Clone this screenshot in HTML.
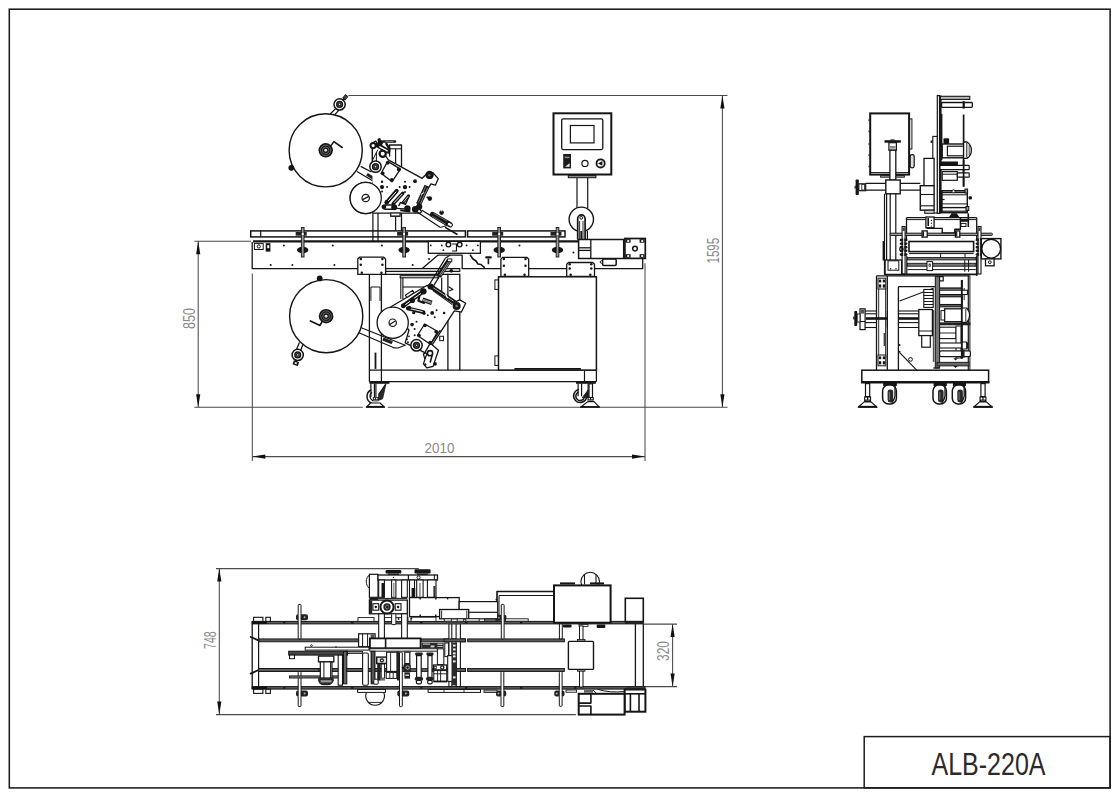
<!DOCTYPE html>
<html><head><meta charset="utf-8"><title>ALB-220A</title>
<style>
html,body{margin:0;padding:0;background:#fff;font-family:"Liberation Sans",sans-serif;}
svg{display:block;}
</style></head><body>
<svg width="1116" height="800" viewBox="0 0 1116 800" fill="none">
<rect x="0" y="0" width="1116" height="800" fill="#ffffff"/>
<g id="dims">
<rect x="9.3" y="9.2" width="1100.8" height="778.7" fill="none" stroke="#1c1c1c" stroke-width="1.55" />
<rect x="864.2" y="736.6" width="245.9" height="51.3" fill="none" stroke="#1c1c1c" stroke-width="1.5" />
<text x="931.5" y="775.1" font-family="'Liberation Sans', sans-serif" font-size="31.5" fill="#2a2a2a" textLength="114" lengthAdjust="spacingAndGlyphs">ALB-220A</text>
<line x1="348.4" y1="95.4" x2="727.5" y2="95.4" stroke="#4a4a4a" stroke-width="1.05" />
<line x1="722.4" y1="95.4" x2="722.4" y2="407.3" stroke="#4a4a4a" stroke-width="1.05" />
<path d="M722.4,95.4 L720.3,108.4 L724.5,108.4 Z" fill="#111" stroke="#151515" stroke-width="0" stroke-linejoin="round" />
<path d="M722.4,407.3 L720.3,394.3 L724.5,394.3 Z" fill="#111" stroke="#151515" stroke-width="0" stroke-linejoin="round" />
<text transform="translate(707.3,263.5) rotate(-90)" x="0" y="11.8" font-family="'Liberation Sans', sans-serif" font-size="16.3" fill="#8a8a8a" textLength="25.7" lengthAdjust="spacingAndGlyphs">1595</text>
<line x1="194.4" y1="407.3" x2="362.8" y2="407.3" stroke="#4a4a4a" stroke-width="1.05" />
<line x1="387.8" y1="407.3" x2="581" y2="407.3" stroke="#4a4a4a" stroke-width="1.05" />
<line x1="598.8" y1="407.3" x2="727.5" y2="407.3" stroke="#4a4a4a" stroke-width="1.05" />
<line x1="194.4" y1="241.2" x2="251" y2="241.2" stroke="#4a4a4a" stroke-width="1.05" />
<line x1="198.2" y1="241.2" x2="198.2" y2="407.3" stroke="#4a4a4a" stroke-width="1.05" />
<path d="M198.2,241.2 L196.1,254.2 L200.3,254.2 Z" fill="#111" stroke="#151515" stroke-width="0" stroke-linejoin="round" />
<path d="M198.2,407.3 L196.1,394.3 L200.3,394.3 Z" fill="#111" stroke="#151515" stroke-width="0" stroke-linejoin="round" />
<text transform="translate(183,329) rotate(-90)" x="0" y="11.8" font-family="'Liberation Sans', sans-serif" font-size="16.3" fill="#8a8a8a" textLength="20.9" lengthAdjust="spacingAndGlyphs">850</text>
<line x1="252.3" y1="273.4" x2="252.3" y2="461" stroke="#4a4a4a" stroke-width="1.05" />
<line x1="645" y1="263.2" x2="645" y2="461" stroke="#4a4a4a" stroke-width="1.05" />
<line x1="252.3" y1="456.6" x2="645" y2="456.6" stroke="#4a4a4a" stroke-width="1.05" />
<path d="M252.3,456.6 L265.3,454.5 L265.3,458.7 Z" fill="#111" stroke="#151515" stroke-width="0" stroke-linejoin="round" />
<path d="M645,456.6 L632,454.5 L632,458.7 Z" fill="#111" stroke="#151515" stroke-width="0" stroke-linejoin="round" />
<text x="424.6" y="452.8" font-family="'Liberation Sans', sans-serif" font-size="14.8" fill="#8a8a8a" textLength="29.8" lengthAdjust="spacingAndGlyphs">2010</text>
<line x1="216" y1="568.6" x2="418.8" y2="568.6" stroke="#4a4a4a" stroke-width="1.05" />
<line x1="216" y1="714.6" x2="575.9" y2="714.6" stroke="#4a4a4a" stroke-width="1.05" />
<line x1="219.3" y1="568.6" x2="219.3" y2="714.6" stroke="#4a4a4a" stroke-width="1.05" />
<path d="M219.3,568.6 L217.2,581.6 L221.4,581.6 Z" fill="#111" stroke="#151515" stroke-width="0" stroke-linejoin="round" />
<path d="M219.3,714.6 L217.2,701.6 L221.4,701.6 Z" fill="#111" stroke="#151515" stroke-width="0" stroke-linejoin="round" />
<text transform="translate(204.8,649) rotate(-90)" x="0" y="11.3" font-family="'Liberation Sans', sans-serif" font-size="15.6" fill="#8a8a8a" textLength="17.7" lengthAdjust="spacingAndGlyphs">748</text>
<line x1="643.3" y1="624.1" x2="677" y2="624.1" stroke="#4a4a4a" stroke-width="1.05" />
<line x1="644" y1="686.6" x2="677" y2="686.6" stroke="#4a4a4a" stroke-width="1.05" />
<line x1="672.6" y1="624.1" x2="672.6" y2="686.6" stroke="#4a4a4a" stroke-width="1.05" />
<path d="M672.6,624.1 L670.5,637.1 L674.7,637.1 Z" fill="#111" stroke="#151515" stroke-width="0" stroke-linejoin="round" />
<path d="M672.6,686.6 L670.5,673.6 L674.7,673.6 Z" fill="#111" stroke="#151515" stroke-width="0" stroke-linejoin="round" />
<text transform="translate(657.9,660.9) rotate(-90)" x="0" y="11.5" font-family="'Liberation Sans', sans-serif" font-size="15.9" fill="#8a8a8a" textLength="19.8" lengthAdjust="spacingAndGlyphs">320</text>
</g>
<g id="front1">
<circle cx="325.7" cy="150.3" r="36.6" fill="none" stroke="#151515" stroke-width="1.4"/>
<circle cx="325.7" cy="150.3" r="7.2" fill="#151515" stroke="#151515" stroke-width="0"/><circle cx="325.7" cy="150.3" r="5.18" fill="none" stroke="#aaa" stroke-width="0.5"/><circle cx="325.7" cy="150.3" r="3.31" fill="none" stroke="#aaa" stroke-width="0.5"/><circle cx="325.7" cy="150.3" r="1.44" fill="#ddd" stroke="#151515" stroke-width="0"/>
<path d="M330.4,146.4 L333.9,141.6 L342.2,147.5" fill="none" stroke="#151515" stroke-width="1.6" stroke-linejoin="round" stroke-linecap="round" />
<line x1="330.2" y1="114" x2="335.8" y2="108.3" stroke="#151515" stroke-width="1.2" />
<line x1="334.6" y1="114.9" x2="339" y2="110" stroke="#151515" stroke-width="1.2" />
<circle cx="339.6" cy="104.4" r="5.6" fill="#fff" stroke="#151515" stroke-width="1.5"/><circle cx="339.6" cy="104.4" r="3.58" fill="#151515" stroke="#151515" stroke-width="0"/><circle cx="339.6" cy="104.4" r="2.02" fill="none" stroke="#888" stroke-width="0.4"/><circle cx="339.6" cy="104.4" r="0.78" fill="#ddd" stroke="#151515" stroke-width="0"/>
<g transform="translate(345.3,97.3) rotate(38)"><rect x="-1.6" y="-2.2" width="3.2" height="4.4" fill="#444" stroke="#151515" stroke-width="0.8" /></g>
<line x1="342.6" y1="100.6" x2="344.4" y2="98.6" stroke="#151515" stroke-width="1.6" />
<circle cx="291.3" cy="167.8" r="2.9" fill="#151515"/>
<circle cx="326.2" cy="316.2" r="36.6" fill="none" stroke="#151515" stroke-width="1.4"/>
<circle cx="326.1" cy="316.2" r="7.3" fill="#151515" stroke="#151515" stroke-width="0"/><circle cx="326.1" cy="316.2" r="5.26" fill="none" stroke="#aaa" stroke-width="0.5"/><circle cx="326.1" cy="316.2" r="3.36" fill="none" stroke="#aaa" stroke-width="0.5"/><circle cx="326.1" cy="316.2" r="1.46" fill="#ddd" stroke="#151515" stroke-width="0"/>
<path d="M310.4,321 L320,325.4 L321.7,322.3" fill="none" stroke="#151515" stroke-width="1.7" stroke-linejoin="round" stroke-linecap="round" />
<line x1="299.4" y1="342.4" x2="296.2" y2="350.2" stroke="#151515" stroke-width="1.3" />
<line x1="302.9" y1="344.6" x2="300.6" y2="350.6" stroke="#151515" stroke-width="1.3" />
<circle cx="297.7" cy="354.9" r="5.6" fill="#fff" stroke="#151515" stroke-width="1.5"/><circle cx="297.7" cy="354.9" r="3.58" fill="#151515" stroke="#151515" stroke-width="0"/><circle cx="297.7" cy="354.9" r="2.02" fill="none" stroke="#888" stroke-width="0.4"/><circle cx="297.7" cy="354.9" r="0.78" fill="#ddd" stroke="#151515" stroke-width="0"/>
<g transform="translate(295.8,363.2) rotate(20)"><rect x="-2.8" y="-2.1" width="5.6" height="4.2" fill="#1a1a1a" stroke="#151515" stroke-width="0" /><rect x="-1.1" y="-0.8" width="2.2" height="1.6" fill="#eee" stroke="#151515" stroke-width="0" /></g>
<line x1="296.6" y1="360" x2="296" y2="361.6" stroke="#151515" stroke-width="2.2" />
<circle cx="319.7" cy="278.4" r="2.9" fill="#151515"/>
<rect x="250.7" y="230.9" width="214.7" height="6" fill="none" stroke="#151515" stroke-width="1.5" />
<line x1="260.7" y1="230.7" x2="260.7" y2="237" stroke="#151515" stroke-width="1.2" />
<rect x="467.6" y="230.9" width="97.4" height="6" fill="none" stroke="#151515" stroke-width="1.5" />
<line x1="253" y1="241.4" x2="578.6" y2="241.4" stroke="#151515" stroke-width="2.3" />
<path d="M252.2,242 L252.2,268.7 L422,268.7 L437.8,255.2 L462.2,255.2 L462.2,268.7 L642.7,268.7 L642.7,258.6" fill="none" stroke="#151515" stroke-width="1.3" stroke-linejoin="round" />
<rect x="254.4" y="243.6" width="8.8" height="5.9" fill="none" stroke="#151515" stroke-width="1.0" />
<circle cx="258.8" cy="246.5" r="1.6" fill="none" stroke="#151515" stroke-width="1.0"/>
<rect x="265.7" y="243.2" width="4.7" height="8.4" fill="#151515" stroke="#151515" stroke-width="0" />
<rect x="267.2" y="245.2" width="2" height="3" fill="#fff" stroke="#151515" stroke-width="0" />
<circle cx="283.9" cy="245.4" r="1" fill="#151515"/>
<circle cx="332.8" cy="245.4" r="1" fill="#151515"/>
<circle cx="381.9" cy="245.4" r="1" fill="#151515"/>
<circle cx="270.7" cy="264.9" r="1" fill="#151515"/>
<circle cx="292.4" cy="264.9" r="1" fill="#151515"/>
<circle cx="334.4" cy="264.9" r="1" fill="#151515"/>
<circle cx="412.7" cy="264.9" r="1" fill="#151515"/>
<circle cx="429" cy="258.9" r="1" fill="#151515"/>
<circle cx="519.5" cy="245.6" r="1" fill="#151515"/>
<circle cx="573.5" cy="252.5" r="1" fill="#151515"/>
<rect x="428.3" y="241.4" width="52.1" height="11.9" fill="#fff" stroke="#151515" stroke-width="1.3" />
<circle cx="448.4" cy="244.6" r="2.3" fill="none" stroke="#151515" stroke-width="1.4"/>
<circle cx="459.7" cy="244.6" r="2.3" fill="none" stroke="#151515" stroke-width="1.4"/>
<circle cx="430.8" cy="245.4" r="0.9" fill="#151515"/>
<circle cx="441.8" cy="245.4" r="0.9" fill="#151515"/>
<circle cx="443.4" cy="250.2" r="0.9" fill="#151515"/>
<circle cx="466.6" cy="245.4" r="0.9" fill="#151515"/>
<circle cx="477.9" cy="245.4" r="0.9" fill="#151515"/>
<circle cx="472.9" cy="250.2" r="0.9" fill="#151515"/>
<path d="M452.5,244 L456.5,244 L456.5,251 L452.5,251" fill="none" stroke="#151515" stroke-width="1.2" stroke-linejoin="round" stroke-linecap="round" />
<path d="M470.4,255.2 L473,259 L476,261 L478,264 L481,264.5 L484.2,267.4" fill="none" stroke="#151515" stroke-width="1.6" stroke-linejoin="round" stroke-linecap="round" />
<rect x="485.2" y="256.2" width="6.6" height="2.4" rx="1" fill="#151515" stroke="#151515" stroke-width="0" />
<rect x="487.6" y="258.6" width="1.6" height="5.6" fill="#151515" stroke="#151515" stroke-width="0" />
<rect x="295.7" y="232" width="11" height="3.7" fill="#222" stroke="#151515" stroke-width="0" />
<ellipse cx="302.7" cy="249.9" rx="5.7" ry="3.2" fill="#151515" stroke="#151515" stroke-width="0" />
<rect x="301.35" y="227.5" width="2.7" height="29.5" fill="#9a9a9a" stroke="#151515" stroke-width="0.9" />
<rect x="301.8" y="233" width="1.8" height="2" fill="#fff" stroke="#151515" stroke-width="0" />
<rect x="397.1" y="232" width="11" height="3.7" fill="#222" stroke="#151515" stroke-width="0" />
<ellipse cx="404.1" cy="249.9" rx="5.7" ry="3.2" fill="#151515" stroke="#151515" stroke-width="0" />
<rect x="402.75" y="227.5" width="2.7" height="29.5" fill="#9a9a9a" stroke="#151515" stroke-width="0.9" />
<rect x="403.2" y="233" width="1.8" height="2" fill="#fff" stroke="#151515" stroke-width="0" />
<rect x="492.2" y="232" width="11" height="3.7" fill="#222" stroke="#151515" stroke-width="0" />
<ellipse cx="499.2" cy="249.9" rx="5.7" ry="3.2" fill="#151515" stroke="#151515" stroke-width="0" />
<rect x="497.85" y="227.5" width="2.7" height="29.5" fill="#9a9a9a" stroke="#151515" stroke-width="0.9" />
<rect x="498.3" y="233" width="1.8" height="2" fill="#fff" stroke="#151515" stroke-width="0" />
<rect x="550.5" y="232" width="11" height="3.7" fill="#222" stroke="#151515" stroke-width="0" />
<ellipse cx="557.5" cy="249.9" rx="5.7" ry="3.2" fill="#151515" stroke="#151515" stroke-width="0" />
<rect x="556.15" y="227.5" width="2.7" height="29.5" fill="#9a9a9a" stroke="#151515" stroke-width="0.9" />
<rect x="556.6" y="233" width="1.8" height="2" fill="#fff" stroke="#151515" stroke-width="0" />
<path d="M357.8,274.4 L357.8,259 L359.6,257.2 L383.8,257.2 L385.6,259 L385.6,274.4 Z" fill="#fff" stroke="#151515" stroke-width="1.3" stroke-linejoin="round" /><circle cx="360.8" cy="259" r="1.25" fill="#151515"/><circle cx="382.4" cy="259" r="1.25" fill="#151515"/><circle cx="360.8" cy="264.77" r="1.25" fill="#151515"/><circle cx="382.4" cy="264.77" r="1.25" fill="#151515"/><circle cx="361.8" cy="272.8" r="1.25" fill="#151515"/><circle cx="381.4" cy="272.8" r="1.25" fill="#151515"/>
<path d="M500.9,276.3 L500.9,259.1 L502.7,257.3 L526.9,257.3 L528.7,259.1 L528.7,276.3 Z" fill="#fff" stroke="#151515" stroke-width="1.3" stroke-linejoin="round" /><circle cx="503.9" cy="259.1" r="1.25" fill="#151515"/><circle cx="525.5" cy="259.1" r="1.25" fill="#151515"/><circle cx="503.9" cy="265.66" r="1.25" fill="#151515"/><circle cx="525.5" cy="265.66" r="1.25" fill="#151515"/><circle cx="504.9" cy="274.7" r="1.25" fill="#151515"/><circle cx="524.5" cy="274.7" r="1.25" fill="#151515"/>
<path d="M566.7,276.3 L566.7,264.3 L568.5,262.5 L592.7,262.5 L594.5,264.3 L594.5,276.3 Z" fill="#fff" stroke="#151515" stroke-width="1.3" stroke-linejoin="round" /><circle cx="569.7" cy="264.3" r="1.25" fill="#151515"/><circle cx="591.3" cy="264.3" r="1.25" fill="#151515"/><circle cx="569.7" cy="268.57" r="1.25" fill="#151515"/><circle cx="591.3" cy="268.57" r="1.25" fill="#151515"/><circle cx="570.7" cy="274.7" r="1.25" fill="#151515"/><circle cx="590.3" cy="274.7" r="1.25" fill="#151515"/>
<line x1="369.4" y1="274" x2="369.4" y2="381.7" stroke="#151515" stroke-width="1.3" />
<line x1="381.4" y1="274" x2="381.4" y2="370.2" stroke="#151515" stroke-width="1.3" />
<line x1="370.9" y1="287" x2="370.9" y2="301" stroke="#151515" stroke-width="1.0" />
<line x1="380" y1="287" x2="380" y2="301" stroke="#151515" stroke-width="1.0" />
<line x1="370.9" y1="287" x2="380" y2="287" stroke="#151515" stroke-width="1.0" />
<rect x="385.8" y="268.5" width="74" height="3" fill="#ccc" stroke="#151515" stroke-width="1.1" />
<line x1="385.8" y1="274.4" x2="459.8" y2="274.4" stroke="#151515" stroke-width="1.2" />
<rect x="400.2" y="275.7" width="37.8" height="2.1" fill="none" stroke="#151515" stroke-width="1.1" />
<line x1="400.8" y1="277.8" x2="400.8" y2="299" stroke="#151515" stroke-width="1.1" />
<line x1="402.9" y1="277.8" x2="402.9" y2="299" stroke="#151515" stroke-width="1.1" />
<line x1="402.9" y1="287" x2="428" y2="287" stroke="#151515" stroke-width="1.1" />
<line x1="447.9" y1="273.8" x2="447.9" y2="370.2" stroke="#151515" stroke-width="1.3" />
<line x1="459.8" y1="273.8" x2="459.8" y2="370.2" stroke="#151515" stroke-width="1.3" />
<line x1="375.5" y1="352.6" x2="375.5" y2="368.9" stroke="#151515" stroke-width="1.8" />
<line x1="369.4" y1="370.2" x2="596.4" y2="370.2" stroke="#151515" stroke-width="1.3" />
<line x1="369.4" y1="381.7" x2="596.4" y2="381.7" stroke="#151515" stroke-width="1.3" />
<line x1="596.4" y1="370.2" x2="596.4" y2="381.7" stroke="#151515" stroke-width="1.3" />
<line x1="584.5" y1="370.2" x2="584.5" y2="381.7" stroke="#151515" stroke-width="1.2" />
<line x1="381.4" y1="370.2" x2="381.4" y2="381.7" stroke="#151515" stroke-width="1.2" />
<rect x="498.5" y="276.8" width="97.9" height="93.3" fill="#fff" stroke="#151515" stroke-width="1.5" />
<rect x="494.9" y="279.9" width="3.6" height="9.5" fill="none" stroke="#151515" stroke-width="1.0" />
<rect x="494.9" y="355.9" width="3.6" height="9.5" fill="none" stroke="#151515" stroke-width="1.0" />
<line x1="514.4" y1="368.9" x2="580.9" y2="368.9" stroke="#151515" stroke-width="1.8" />
<rect x="369.4" y="381.6" width="20" height="2.2" fill="#151515" stroke="#151515" stroke-width="0" />
<path d="M370.9,390 A7.2,7.2 0 0 0 371.4,403" fill="none" stroke="#151515" stroke-width="1.5" stroke-linejoin="round" stroke-linecap="round" />
<path d="M371.6,392.4 A5,5 0 0 0 372.6,400.6" fill="none" stroke="#151515" stroke-width="1.3" stroke-linejoin="round" stroke-linecap="round" />
<line x1="370.9" y1="383.8" x2="370.9" y2="397" stroke="#151515" stroke-width="1.2" />
<line x1="374.4" y1="383.8" x2="374.4" y2="397" stroke="#151515" stroke-width="1.2" />
<line x1="375.9" y1="383.8" x2="375.9" y2="397" stroke="#151515" stroke-width="1.2" />
<path d="M385.8,384.4 L382.6,398.8 L378.2,400.4 L378.8,394.4 Z" fill="#2a2a2a" stroke="#151515" stroke-width="0.8" stroke-linejoin="round" />
<line x1="385.8" y1="384" x2="378.6" y2="394.6" stroke="#151515" stroke-width="1.2" />
<rect x="372.8" y="397.2" width="5.6" height="3.4" fill="#151515" stroke="#151515" stroke-width="0" />
<rect x="373.8" y="398" width="1.3" height="1.4" fill="#fff" stroke="#151515" stroke-width="0" />
<rect x="376.1" y="398" width="1.3" height="1.4" fill="#fff" stroke="#151515" stroke-width="0" />
<path d="M366.3,407.2 L384.5,407.2 L380,403 L370.6,403 Z" fill="#fff" stroke="#151515" stroke-width="1.2" stroke-linejoin="round" />
<line x1="366.3" y1="406.8" x2="384.5" y2="406.8" stroke="#151515" stroke-width="1.8" />
<rect x="372.8" y="401.2" width="5.6" height="0.8" fill="#999" stroke="#151515" stroke-width="0" />
<rect x="576" y="381.7" width="19.8" height="2.1" fill="#151515" stroke="#151515" stroke-width="0" />
<path d="M578.2,389.6 A6.6,6.6 0 1 0 586.4,398.2" fill="none" stroke="#151515" stroke-width="1.5" stroke-linejoin="round" stroke-linecap="round" />
<path d="M578.2,392.2 A4.4,4.4 0 1 0 584.4,397.4" fill="none" stroke="#151515" stroke-width="1.5" stroke-linejoin="round" stroke-linecap="round" />
<line x1="578.1" y1="383.8" x2="578.1" y2="396.2" stroke="#151515" stroke-width="1.2" />
<line x1="581.6" y1="383.8" x2="581.6" y2="396.2" stroke="#151515" stroke-width="1.2" />
<rect x="589" y="383.8" width="3.5" height="13.7" fill="#fff" stroke="#151515" stroke-width="1.2" />
<path d="M588.1,390 L588.1,397.6 L582.4,397.6 Z" fill="#222" stroke="#151515" stroke-width="0.8" stroke-linejoin="round" />
<line x1="588.1" y1="383.8" x2="588.1" y2="397.4" stroke="#151515" stroke-width="1.2" />
<path d="M580.6,407.2 L599.4,407.2 L594,401.6 L587.8,401.6 Z" fill="#fff" stroke="#151515" stroke-width="1.2" stroke-linejoin="round" />
<line x1="580.6" y1="406.9" x2="599.4" y2="406.9" stroke="#151515" stroke-width="1.6" />
<rect x="587.5" y="397.2" width="6.3" height="3.4" fill="#151515" stroke="#151515" stroke-width="0" />
<rect x="588.6" y="398" width="1.4" height="1.4" fill="#fff" stroke="#151515" stroke-width="0" />
<rect x="591.2" y="398" width="1.4" height="1.4" fill="#fff" stroke="#151515" stroke-width="0" />
<rect x="553.5" y="113.3" width="57.8" height="61.2" fill="none" stroke="#151515" stroke-width="2.0" />
<rect x="561.7" y="118.8" width="41.1" height="30.8" rx="1.5" fill="none" stroke="#151515" stroke-width="1.3" />
<rect x="570.4" y="125.5" width="23.6" height="17.4" fill="none" stroke="#151515" stroke-width="1.2" />
<rect x="563.2" y="154" width="7.8" height="14.4" fill="#1a1a1a" stroke="#151515" stroke-width="0" />
<rect x="564.6" y="156.6" width="5" height="1.6" fill="#888" stroke="#151515" stroke-width="0" />
<path d="M565,166.8 L569.6,163.2 L569.6,166.8 Z" fill="#eee" stroke="#151515" stroke-width="0" stroke-linejoin="round" />
<circle cx="585" cy="163.4" r="3.1" fill="none" stroke="#151515" stroke-width="1.2"/>
<circle cx="600.6" cy="163.4" r="4.1" fill="none" stroke="#151515" stroke-width="1.8"/>
<path d="M598,163.4 L602.4,161 L602.4,165.8 Z" fill="#151515" stroke="#151515" stroke-width="0" stroke-linejoin="round" />
<rect x="568.3" y="175.6" width="27.6" height="2.1" fill="#999" stroke="#151515" stroke-width="1.0" />
<line x1="577" y1="177.7" x2="577" y2="208" stroke="#151515" stroke-width="1.2" />
<line x1="587.7" y1="177.7" x2="587.7" y2="208" stroke="#151515" stroke-width="1.2" />
<circle cx="581.3" cy="219.3" r="12.2" fill="#fff" stroke="#151515" stroke-width="1.4"/>
<path d="M577.7,239 L577.7,218.6 A3.7,3.7 0 0 1 585.1,218.6 L585.1,239" fill="#fff" stroke="#151515" stroke-width="1.7" stroke-linejoin="round" stroke-linecap="round" />
<circle cx="581.3" cy="217.8" r="1.4" fill="none" stroke="#151515" stroke-width="1.0"/>
<line x1="579.6" y1="221" x2="579.6" y2="239" stroke="#151515" stroke-width="0.9" />
<line x1="583" y1="221" x2="583" y2="239" stroke="#151515" stroke-width="0.9" />
<rect x="580.4" y="231" width="1.8" height="8" fill="#151515" stroke="#151515" stroke-width="0" />
<line x1="587.4" y1="231" x2="587.4" y2="239" stroke="#151515" stroke-width="1.2" />
<rect x="578.6" y="239.5" width="45.1" height="19" fill="#fff" stroke="#151515" stroke-width="1.5" />
<line x1="590.8" y1="239.5" x2="590.8" y2="258.5" stroke="#151515" stroke-width="1.3" />
<line x1="578.6" y1="247.8" x2="590.8" y2="247.8" stroke="#151515" stroke-width="1.3" />
<line x1="578.6" y1="250.4" x2="590.8" y2="250.4" stroke="#151515" stroke-width="1.3" />
<rect x="624.9" y="238.5" width="20.4" height="19.9" fill="#fff" stroke="#151515" stroke-width="1.7" />
<circle cx="635" cy="248.6" r="2.3" fill="none" stroke="#151515" stroke-width="1.5"/>
<rect x="625.6" y="239.2" width="5" height="3.5" fill="#151515" stroke="#151515" stroke-width="0" />
<rect x="627.2" y="240.1" width="2" height="1.8" fill="#fff" stroke="#151515" stroke-width="0" />
<rect x="625.6" y="254.2" width="5" height="3.5" fill="#151515" stroke="#151515" stroke-width="0" />
<rect x="627.2" y="255.1" width="2" height="1.8" fill="#fff" stroke="#151515" stroke-width="0" />
<rect x="639.6" y="239.2" width="5" height="3.5" fill="#151515" stroke="#151515" stroke-width="0" />
<rect x="641.2" y="240.1" width="2" height="1.8" fill="#fff" stroke="#151515" stroke-width="0" />
<rect x="639.6" y="254.2" width="5" height="3.5" fill="#151515" stroke="#151515" stroke-width="0" />
<rect x="641.2" y="255.1" width="2" height="1.8" fill="#fff" stroke="#151515" stroke-width="0" />
<rect x="602.6" y="259" width="13.6" height="6.4" rx="1.2" fill="none" stroke="#151515" stroke-width="1.5" />
<circle cx="601.4" cy="262" r="1.2" fill="#fff" stroke="#151515" stroke-width="1.0"/>
</g>
<g id="front2">
<line x1="372.9" y1="212.8" x2="372.9" y2="241" stroke="#151515" stroke-width="1.2" />
<line x1="378" y1="212.8" x2="378" y2="241" stroke="#151515" stroke-width="1.2" />
<path d="M389.6,156 L389.6,145 L401.5,145 L401.5,230.7" fill="none" stroke="#151515" stroke-width="1.3" stroke-linejoin="round" stroke-linecap="round" />
<line x1="395.6" y1="148.8" x2="395.6" y2="230.7" stroke="#151515" stroke-width="1.2" />
<line x1="389.6" y1="148.8" x2="401.5" y2="148.8" stroke="#151515" stroke-width="1.1" />
<rect x="390.7" y="213.4" width="9.3" height="2.9" fill="#fff" stroke="#151515" stroke-width="1.0" />
<circle cx="365.7" cy="198" r="15.6" fill="#fff" stroke="#151515" stroke-width="1.3"/>
<circle cx="365.7" cy="198" r="3.7" fill="none" stroke="#151515" stroke-width="1.2"/>
<line x1="362.6" y1="199.6" x2="368.8" y2="196.4" stroke="#151515" stroke-width="1.2" />
<line x1="356.9" y1="171.4" x2="373.9" y2="181.4" stroke="#151515" stroke-width="1.2" />
<line x1="360.7" y1="166.4" x2="371.4" y2="172" stroke="#151515" stroke-width="1.2" />
<g transform="translate(371.2,176.9) rotate(32)"><rect x="-5" y="-1.6" width="10" height="3.2" fill="#222" stroke="#151515" stroke-width="0" /></g>
<line x1="374" y1="181.4" x2="363" y2="190" stroke="#151515" stroke-width="1.0" />
<path d="M372.37,167.64 L372.37,143.17 L375.76,141.04 L388.31,159.86 L422.18,178.31 L426.32,174.17 L432.85,172.66 L438.24,178.68 L435.36,185.21 L430.97,183.95 L416.79,206.29 L421.56,211.3 L420.3,213.06 L372.87,213.06" fill="#fff" stroke="#151515" stroke-width="1.3" stroke-linejoin="round" />
<circle cx="365.7" cy="198" r="15.6" fill="#fff" stroke="#151515" stroke-width="1.3"/>
<circle cx="365.7" cy="198" r="3.7" fill="none" stroke="#151515" stroke-width="1.2"/>
<line x1="362.6" y1="199.6" x2="368.8" y2="196.4" stroke="#151515" stroke-width="1.2" />
<line x1="372.4" y1="146" x2="372.4" y2="168" stroke="#151515" stroke-width="1.2" />
<line x1="376.4" y1="152" x2="376.4" y2="162" stroke="#151515" stroke-width="1.0" />
<line x1="383.29" y1="141.54" x2="394.96" y2="141.54" stroke="#151515" stroke-width="2.6" stroke-linecap="round"/>
<line x1="385.17" y1="141.54" x2="393.32" y2="141.54" stroke="#999" stroke-width="0.8" stroke-linecap="butt"/>
<line x1="379.15" y1="139.79" x2="380.9" y2="146.94" stroke="#151515" stroke-width="3.4" stroke-linecap="round"/>
<circle cx="380.4" cy="142.55" r="2.6" fill="#151515"/>
<line x1="377.14" y1="145.06" x2="388.18" y2="151.33" stroke="#151515" stroke-width="4.6" stroke-linecap="round"/>
<line x1="379.9" y1="146.81" x2="387.18" y2="150.83" stroke="#fff" stroke-width="1.5" stroke-linecap="round"/>
<circle cx="373.12" cy="145.56" r="2.6" fill="#fff" stroke="#151515" stroke-width="2.0"/>
<circle cx="382.66" cy="153.84" r="3.1" fill="#fff" stroke="#151515" stroke-width="2.2"/>
<path d="M377.64,150.08 L372.87,159.49" fill="none" stroke="#151515" stroke-width="1.0" stroke-linejoin="round" stroke-linecap="round" />
<line x1="386.42" y1="143.8" x2="389.56" y2="148.82" stroke="#151515" stroke-width="2.4" stroke-linecap="round"/>
<circle cx="375.51" cy="166.64" r="5.7" fill="#fff" stroke="#151515" stroke-width="1.5"/><circle cx="375.51" cy="166.64" r="3.65" fill="#151515" stroke="#151515" stroke-width="0"/><circle cx="375.51" cy="166.64" r="2.05" fill="none" stroke="#888" stroke-width="0.4"/><circle cx="375.51" cy="166.64" r="0.8" fill="#ddd" stroke="#151515" stroke-width="0"/>
<path d="M387.68,161.37 L400.48,169.15 L392.07,181.69 L381.15,173.29 Z" fill="#fff" stroke="#151515" stroke-width="1.3" stroke-linejoin="round" />
<circle cx="387.68" cy="162.87" r="1.9" fill="#151515"/>
<circle cx="398.72" cy="169.4" r="1.9" fill="#151515"/>
<circle cx="391.82" cy="179.94" r="1.9" fill="#151515"/>
<circle cx="382.66" cy="173.29" r="1.9" fill="#151515"/>
<circle cx="429.59" cy="174.92" r="4.2" fill="#151515" stroke="#151515" stroke-width="0"/>
<circle cx="429.34" cy="175.17" r="1.2" fill="#666" stroke="#151515" stroke-width="0"/>
<circle cx="382.03" cy="181.69" r="1.2" fill="#151515"/>
<circle cx="382.03" cy="187.09" r="2.1" fill="#151515"/>
<circle cx="387.05" cy="187.09" r="1" fill="#151515"/>
<circle cx="382.03" cy="191.48" r="1" fill="#151515"/>
<circle cx="404.99" cy="181.69" r="1" fill="#151515"/>
<circle cx="404.99" cy="187.09" r="2.2" fill="#151515"/>
<circle cx="399.6" cy="187.09" r="1" fill="#151515"/>
<circle cx="409.64" cy="187.09" r="1" fill="#151515"/>
<circle cx="404.99" cy="192.11" r="1" fill="#151515"/>
<circle cx="415.03" cy="181.19" r="1.9" fill="#151515"/>
<line x1="386.68" y1="202.52" x2="396.71" y2="190.85" stroke="#151515" stroke-width="4.0" stroke-linecap="round"/>
<line x1="387.68" y1="201.52" x2="395.96" y2="191.98" stroke="#fff" stroke-width="1.0" stroke-linecap="round"/>
<line x1="393.32" y1="203.4" x2="402.74" y2="193.36" stroke="#151515" stroke-width="3.6" stroke-linecap="round"/>
<line x1="394.2" y1="202.52" x2="401.98" y2="194.24" stroke="#fff" stroke-width="0.9" stroke-linecap="round"/>
<path d="M398.97,205.53 L400.48,202.52 L405.5,204.28 L409.39,195.5" fill="none" stroke="#151515" stroke-width="1.5" stroke-linejoin="round" stroke-linecap="round" />
<line x1="403.36" y1="202.15" x2="408.38" y2="195.87" stroke="#151515" stroke-width="3.0" stroke-linecap="round"/>
<line x1="403.99" y1="201.52" x2="407.88" y2="196.62" stroke="#fff" stroke-width="0.8" stroke-linecap="round"/>
<rect x="383.29" y="205.03" width="11.92" height="4.27" rx="2" fill="#fff" stroke="#151515" stroke-width="1.4" />
<circle cx="383.91" cy="206.79" r="2.4" fill="#151515"/>
<circle cx="394.2" cy="207.16" r="3" fill="#151515"/>
<circle cx="386.68" cy="202.15" r="2.2" fill="#151515"/>
<circle cx="407.38" cy="208.42" r="3.2" fill="#151515"/>
<circle cx="415.28" cy="209.3" r="3.4" fill="#151515"/>
<circle cx="419.3" cy="206.79" r="3" fill="#151515"/>
<line x1="395.21" y1="208.42" x2="405.24" y2="208.8" stroke="#151515" stroke-width="1.2" />
<line x1="400.23" y1="210.3" x2="410.26" y2="211.56" stroke="#151515" stroke-width="2.0" stroke-linecap="butt"/>
<line x1="427.08" y1="185.83" x2="418.54" y2="204.28" stroke="#151515" stroke-width="5.4" stroke-linecap="butt"/>
<line x1="425.57" y1="186.71" x2="418.54" y2="202.15" stroke="#ddd" stroke-width="0.55" stroke-linecap="round"/>
<line x1="427.58" y1="187.97" x2="420.55" y2="203.4" stroke="#ddd" stroke-width="0.55" stroke-linecap="round"/>
<line x1="423.81" y1="192.74" x2="421.3" y2="194.24" stroke="#fff" stroke-width="1.0" stroke-linecap="round"/>
<circle cx="429.8" cy="198.6" r="2.3" fill="#151515" stroke="#151515" stroke-width="0"/>
<line x1="426.6" y1="197" x2="429" y2="198.2" stroke="#151515" stroke-width="1.4" />
<line x1="416.79" y1="211.56" x2="416.5" y2="211.6" stroke="#151515" stroke-width="0" />
<line x1="416.8" y1="211.8" x2="440.4" y2="227.4" stroke="#151515" stroke-width="1.2" />
<line x1="421.8" y1="210.3" x2="447" y2="225.6" stroke="#151515" stroke-width="1.2" />
<line x1="432.6" y1="214.6" x2="449.6" y2="224.4" stroke="#151515" stroke-width="5.4" stroke-linecap="round"/>
<line x1="434" y1="213.6" x2="446.6" y2="220.9" stroke="#ccc" stroke-width="0.5" stroke-linecap="round"/>
<line x1="432.6" y1="216.6" x2="445.2" y2="223.9" stroke="#ccc" stroke-width="0.5" stroke-linecap="round"/>
<g transform="translate(449.8,224.6) rotate(30)"><rect x="-2.6" y="-1.7" width="5.2" height="3.4" rx="1.2" fill="#fff" stroke="#151515" stroke-width="1.0" /></g>
<circle cx="441.6" cy="212.6" r="2.3" fill="#151515" stroke="#151515" stroke-width="0"/>
<rect x="440.9" y="210.2" width="1.4" height="1.2" fill="#fff" stroke="#151515" stroke-width="0" />
<line x1="440.4" y1="227.4" x2="447" y2="225.6" stroke="#151515" stroke-width="1.0" />
<line x1="445.6" y1="227.6" x2="457" y2="234.2" stroke="#151515" stroke-width="1.6" stroke-linecap="round"/>
<rect x="390.82" y="213.06" width="9.16" height="2.89" fill="#fff" stroke="#151515" stroke-width="1.0" />
</g>
<g id="front3">
<line x1="361.3" y1="327.8" x2="405.2" y2="345.3" stroke="#151515" stroke-width="1.2" />
<line x1="358.8" y1="332.8" x2="393.9" y2="347.8" stroke="#151515" stroke-width="1.2" />
<path d="M393.9,347.8 L398,348 L405.2,345.3" fill="none" stroke="#151515" stroke-width="1.2" stroke-linejoin="round" stroke-linecap="round" />
<path d="M391,306.8 L426.79,285.47 L431.56,286.98 L454.14,302.41 L459.79,299.9 L465.68,303.29 L461.42,312.07 L454.39,310.82 L436.57,338.04 L430.3,347.83 L438.46,350.34 L432.81,360.38 L425.28,360.38 L423.4,354.1 L425.28,352.85 L405.21,342.81 L408.97,330.26 Z" fill="#fff" stroke="#151515" stroke-width="1.3" stroke-linejoin="round" />
<path d="M430.3,343.17 L438.46,350.33 L433.06,366.39 L426.79,367.89 L423.4,363.88 L426.79,353.84 L425.03,352.33 Z" fill="#fff" stroke="#151515" stroke-width="1.3" stroke-linejoin="round" />
<circle cx="430.05" cy="353.21" r="2.6" fill="#fff" stroke="#151515" stroke-width="1.6"/>
<line x1="432.18" y1="355.09" x2="430.3" y2="361.99" stroke="#151515" stroke-width="1.6" stroke-linecap="round"/>
<circle cx="435.07" cy="363.88" r="1.8" fill="#151515"/>
<circle cx="425.28" cy="364.5" r="1.2" fill="#151515"/>
<line x1="440.34" y1="330" x2="431.56" y2="342.55" stroke="#151515" stroke-width="1.3" />
<rect x="439.71" y="336.27" width="3.76" height="4.39" fill="#fff" stroke="#151515" stroke-width="1.0" />
<circle cx="392.7" cy="322.7" r="15.6" fill="#fff" stroke="#151515" stroke-width="1.3"/>
<circle cx="392.7" cy="322.7" r="3.7" fill="none" stroke="#151515" stroke-width="1.2"/>
<line x1="389.8" y1="324.6" x2="395.6" y2="320.8" stroke="#151515" stroke-width="1.2" />
<g transform="translate(387.6,340.9) rotate(22)"><rect x="-5" y="-1.7" width="10" height="3.4" fill="#222" stroke="#151515" stroke-width="0" /></g>
<circle cx="416.5" cy="345.32" r="5.7" fill="#fff" stroke="#151515" stroke-width="1.5"/><circle cx="416.5" cy="345.32" r="3.65" fill="#151515" stroke="#151515" stroke-width="0"/><circle cx="416.5" cy="345.32" r="2.05" fill="none" stroke="#888" stroke-width="0.4"/><circle cx="416.5" cy="345.32" r="0.8" fill="#ddd" stroke="#151515" stroke-width="0"/>
<path d="M424.65,323.99 L437.83,331.52 L430.3,344.32 L417.5,335.53 Z" fill="#fff" stroke="#151515" stroke-width="1.3" stroke-linejoin="round" />
<circle cx="425.03" cy="325.5" r="1.8" fill="#151515"/>
<circle cx="436.07" cy="331.77" r="1.8" fill="#151515"/>
<circle cx="430.05" cy="342.56" r="1.8" fill="#151515"/>
<circle cx="419.01" cy="335.53" r="1.8" fill="#151515"/>
<circle cx="456.65" cy="306.05" r="4" fill="#151515" stroke="#151515" stroke-width="0"/>
<circle cx="456.65" cy="306.05" r="1.3" fill="#777" stroke="#151515" stroke-width="0"/>
<circle cx="432.18" cy="312.95" r="1.9" fill="#151515"/>
<circle cx="436.57" cy="310.19" r="1" fill="#151515"/>
<circle cx="444.1" cy="312.95" r="1.3" fill="#151515"/>
<circle cx="427.79" cy="315.21" r="1" fill="#151515"/>
<circle cx="434.69" cy="317.34" r="1" fill="#151515"/>
<circle cx="412.11" cy="324.62" r="1.8" fill="#151515"/>
<circle cx="416.5" cy="321.73" r="1" fill="#151515"/>
<circle cx="414.62" cy="329.01" r="1" fill="#151515"/>
<circle cx="408.97" cy="336.29" r="0.9" fill="#151515"/>
<circle cx="407.09" cy="339.3" r="0.9" fill="#151515"/>
<circle cx="414.62" cy="335.28" r="1" fill="#151515"/>
<circle cx="407.97" cy="342.18" r="0.9" fill="#151515"/>
<line x1="403.32" y1="305.8" x2="423.4" y2="291.37" stroke="#151515" stroke-width="4.2" stroke-linecap="round"/>
<line x1="404.71" y1="305.17" x2="422.02" y2="292.62" stroke="#fff" stroke-width="1.0" stroke-linecap="round"/>
<circle cx="423.4" cy="291.37" r="3.2" fill="#151515"/>
<circle cx="412.36" cy="300.4" r="2.6" fill="#151515"/>
<circle cx="403.32" cy="305.8" r="2.4" fill="#151515"/>
<line x1="407.72" y1="308.31" x2="423.4" y2="312.07" stroke="#151515" stroke-width="3.8" stroke-linecap="round"/>
<line x1="408.97" y1="308.43" x2="422.15" y2="311.57" stroke="#fff" stroke-width="0.9" stroke-linecap="round"/>
<path d="M419.26,296.64 L418.38,300.78 L424.03,302.91" fill="none" stroke="#151515" stroke-width="2.2" stroke-linejoin="round" stroke-linecap="round" />
<line x1="422.52" y1="299.65" x2="431.81" y2="302.91" stroke="#151515" stroke-width="4.4" stroke-linecap="butt"/>
<line x1="423.27" y1="299.4" x2="431.56" y2="302.28" stroke="#eee" stroke-width="0.7" stroke-linecap="butt"/>
<line x1="422.77" y1="300.4" x2="431.05" y2="303.29" stroke="#eee" stroke-width="0.7" stroke-linecap="butt"/>
<path d="M405.4,295.2 L412.5,290.4 L414,292.6 L406.9,297.5 Z" fill="#fff" stroke="#151515" stroke-width="1.1" stroke-linejoin="round" />
<circle cx="424.03" cy="313.32" r="1.6" fill="#151515"/>
<circle cx="413.74" cy="312.7" r="1.6" fill="#151515"/>
<circle cx="409.22" cy="307.68" r="2" fill="#151515"/>
<line x1="433" y1="290.6" x2="452.4" y2="304.6" stroke="#151515" stroke-width="1.1" />
<line x1="441.7" y1="277.8" x2="441.7" y2="294.6" stroke="#151515" stroke-width="1.2" />
<line x1="431.56" y1="286.98" x2="454.77" y2="302.41" stroke="#151515" stroke-width="4.6" stroke-linecap="butt"/>
<line x1="433.44" y1="287.85" x2="453.14" y2="300.9" stroke="#bbb" stroke-width="0.9" stroke-linecap="round"/>
<line x1="445.61" y1="293.88" x2="447.37" y2="297.64" stroke="#fff" stroke-width="1.2" stroke-linecap="round"/>
<path d="M449.12,286.98 L452.89,289.49 L449.75,290.74" fill="none" stroke="#151515" stroke-width="1.3" stroke-linejoin="round" stroke-linecap="round" />
<line x1="428.97" y1="285.26" x2="445.28" y2="258.29" stroke="#151515" stroke-width="1.3" />
<line x1="432.74" y1="287.15" x2="450.3" y2="258.91" stroke="#151515" stroke-width="1.3" />
<circle cx="430.48" cy="286.52" r="3" fill="#151515"/>
<line x1="438.76" y1="276.23" x2="449.3" y2="260.42" stroke="#151515" stroke-width="5.2" stroke-linecap="butt"/>
<line x1="439.76" y1="274.72" x2="448.29" y2="261.93" stroke="#bbb" stroke-width="0.8" stroke-linecap="round"/>
<line x1="441.02" y1="275.48" x2="449.55" y2="262.68" stroke="#bbb" stroke-width="0.8" stroke-linecap="round"/>
<rect x="447.54" y="258.91" width="4.27" height="2.76" fill="#fff" stroke="#151515" stroke-width="0.9" />
<circle cx="451.3" cy="270.83" r="1.8" fill="#151515"/>
<line x1="445.28" y1="258.29" x2="450.3" y2="254.9" stroke="#151515" stroke-width="1.2" />
</g>
<g id="side">
<rect x="870.2" y="113.4" width="38.9" height="61.2" fill="none" stroke="#151515" stroke-width="2.0" />
<line x1="870.2" y1="172.6" x2="909.1" y2="172.6" stroke="#151515" stroke-width="1.0" />
<rect x="868.5" y="119.3" width="0.9" height="1.6" fill="#151515" stroke="#151515" stroke-width="0" />
<rect x="868.5" y="130.6" width="0.9" height="1.6" fill="#151515" stroke="#151515" stroke-width="0" />
<rect x="868.5" y="143.2" width="0.9" height="1.6" fill="#151515" stroke="#151515" stroke-width="0" />
<rect x="868.5" y="154.4" width="0.9" height="1.6" fill="#151515" stroke="#151515" stroke-width="0" />
<rect x="868.5" y="165.7" width="0.9" height="1.6" fill="#151515" stroke="#151515" stroke-width="0" />
<rect x="909.6" y="118.9" width="2.3" height="30.1" fill="none" stroke="#151515" stroke-width="1.0" />
<rect x="910.2" y="154.6" width="4" height="13.2" rx="1.8" fill="#ddd" stroke="#151515" stroke-width="1.2" />
<rect x="884.5" y="140.2" width="16.3" height="2.5" fill="#151515" stroke="#151515" stroke-width="0" />
<rect x="890.5" y="139.4" width="4" height="1" fill="#151515" stroke="#151515" stroke-width="0" />
<rect x="888.9" y="142.7" width="7.5" height="7.5" fill="none" stroke="#151515" stroke-width="1.2" />
<rect x="889.6" y="146" width="6" height="2.6" fill="#888" stroke="#151515" stroke-width="0" />
<rect x="880.6" y="175.6" width="23.8" height="1.6" fill="#aaa" stroke="#151515" stroke-width="0.9" />
<rect x="889.9" y="150.2" width="5.9" height="30" fill="#fff" stroke="#151515" stroke-width="1.3" />
<rect x="937.3" y="95.6" width="2.3" height="117.7" fill="#eee" stroke="#151515" stroke-width="1.2" />
<rect x="939.4" y="95.6" width="2.2" height="117.7" fill="#1a1a1a" stroke="#151515" stroke-width="0" />
<rect x="940.3" y="96.3" width="29.5" height="3.1" fill="#bbb" stroke="#151515" stroke-width="1.1" />
<rect x="941.6" y="102.5" width="30.7" height="4.8" rx="0.8" fill="#fff" stroke="#151515" stroke-width="1.3" />
<rect x="962.6" y="101.2" width="2.2" height="7.4" fill="#151515" stroke="#151515" stroke-width="0" />
<line x1="941.6" y1="114" x2="941.6" y2="160" stroke="#151515" stroke-width="1.6" />
<line x1="963.6" y1="114.5" x2="963.6" y2="186.6" stroke="#151515" stroke-width="1.7" />
<rect x="943.5" y="138.3" width="5.6" height="5.7" rx="1" fill="#151515" stroke="#151515" stroke-width="0" />
<rect x="942.2" y="144" width="21.4" height="13.8" fill="#fff" stroke="#151515" stroke-width="1.4" />
<rect x="947.4" y="146.2" width="16.2" height="9.6" fill="none" stroke="#151515" stroke-width="1.2" />
<path d="M963.6,142 L967,142 Q971.4,145 971.4,150.2 Q971.4,155.4 967,158.4 L963.6,158.4 Z" fill="#fff" stroke="#151515" stroke-width="1.3" stroke-linejoin="round" stroke-linecap="round" />
<line x1="966.8" y1="143" x2="966.8" y2="157.6" stroke="#151515" stroke-width="1.0" />
<line x1="969.2" y1="145" x2="969.2" y2="155.6" stroke="#151515" stroke-width="0.8" />
<rect x="932.8" y="136.4" width="4.4" height="76.6" fill="#fff" stroke="#151515" stroke-width="1.1" />
<rect x="930.6" y="140.6" width="2.2" height="2.2" fill="#151515" stroke="#151515" stroke-width="0" />
<rect x="924" y="158.4" width="10.1" height="27.3" fill="#fff" stroke="#151515" stroke-width="1.3" />
<rect x="940.3" y="161.5" width="17.6" height="3.8" fill="#151515" stroke="#151515" stroke-width="0" />
<rect x="940.3" y="165.3" width="28.9" height="4.4" rx="0.8" fill="#fff" stroke="#151515" stroke-width="1.2" />
<rect x="940.6" y="166" width="3.4" height="3" fill="#fff" stroke="#151515" stroke-width="0" />
<rect x="942.2" y="171.6" width="15.1" height="8.7" fill="#fff" stroke="#151515" stroke-width="1.2" />
<line x1="942.2" y1="174.2" x2="957.3" y2="174.2" stroke="#151515" stroke-width="1.0" />
<rect x="957.3" y="172.8" width="11.9" height="4.4" rx="0.8" fill="#fff" stroke="#151515" stroke-width="1.2" />
<line x1="963.6" y1="160" x2="963.6" y2="186.6" stroke="#151515" stroke-width="1.7" />
<rect x="855.6" y="179.4" width="3.2" height="15.7" rx="0.8" fill="#151515" stroke="#151515" stroke-width="0" />
<rect x="854.6" y="185.8" width="1.2" height="2.8" fill="#151515" stroke="#151515" stroke-width="0" />
<rect x="858.8" y="183.8" width="6.9" height="6.9" fill="#fff" stroke="#151515" stroke-width="1.2" />
<rect x="861.8" y="184.4" width="2.6" height="5.6" fill="#fff" stroke="#151515" stroke-width="0.8" />
<line x1="865.7" y1="183.4" x2="920.3" y2="183.4" stroke="#151515" stroke-width="1.3" />
<line x1="865.7" y1="190.1" x2="920.3" y2="190.1" stroke="#151515" stroke-width="1.3" />
<rect x="885.8" y="180" width="14.4" height="13.8" fill="#fff" stroke="#151515" stroke-width="1.4" />
<line x1="884.5" y1="193.8" x2="884.5" y2="275" stroke="#151515" stroke-width="1.2" />
<line x1="886.6" y1="193.8" x2="886.6" y2="275" stroke="#151515" stroke-width="1.2" />
<line x1="890.2" y1="193.8" x2="890.2" y2="275" stroke="#151515" stroke-width="1.2" />
<line x1="895.8" y1="193.8" x2="895.8" y2="275" stroke="#151515" stroke-width="1.2" />
<line x1="883.4" y1="241" x2="883.4" y2="260.5" stroke="#151515" stroke-width="1.6" />
<rect x="920.3" y="185.7" width="13.8" height="24.5" fill="#fff" stroke="#151515" stroke-width="1.4" />
<line x1="920.3" y1="194.5" x2="934.1" y2="194.5" stroke="#151515" stroke-width="1.1" />
<line x1="920.3" y1="205.8" x2="934.1" y2="205.8" stroke="#151515" stroke-width="1.1" />
<rect x="924.7" y="210.2" width="9.4" height="3.1" fill="#ccc" stroke="#151515" stroke-width="1.0" />
<rect x="940.3" y="190.7" width="27" height="22" fill="#fff" stroke="#151515" stroke-width="1.4" />
<line x1="940.3" y1="192.4" x2="967.3" y2="192.4" stroke="#151515" stroke-width="1.6" />
<line x1="940.3" y1="194.8" x2="967.3" y2="194.8" stroke="#151515" stroke-width="1.0" />
<line x1="940.3" y1="203.9" x2="967.3" y2="203.9" stroke="#151515" stroke-width="1.0" />
<line x1="940.3" y1="207.6" x2="967.3" y2="207.6" stroke="#151515" stroke-width="1.4" />
<line x1="940.3" y1="211.2" x2="967.3" y2="211.2" stroke="#151515" stroke-width="1.2" />
<circle cx="953.5" cy="191.3" r="1.5" fill="#fff" stroke="#151515" stroke-width="1.0"/>
<line x1="941.6" y1="191" x2="941.6" y2="212.6" stroke="#151515" stroke-width="2.2" />
<line x1="942" y1="199.5" x2="944.6" y2="199.5" stroke="#151515" stroke-width="1.2" />
<rect x="965" y="189" width="2.6" height="4" fill="#999" stroke="#151515" stroke-width="1.0" />
<rect x="966" y="206.5" width="2.8" height="4" fill="#999" stroke="#151515" stroke-width="1.0" />
<rect x="968.6" y="196.3" width="3.3" height="3.2" rx="1" fill="#151515" stroke="#151515" stroke-width="0" />
<line x1="968.3" y1="213.3" x2="968.3" y2="227" stroke="#151515" stroke-width="1.6" />
<path d="M949.1,217 L951.6,213.3 L956.7,213.3 L959.2,217 Z" fill="#151515" stroke="#151515" stroke-width="0" stroke-linejoin="round" />
<line x1="906.5" y1="217.7" x2="976.7" y2="217.7" stroke="#151515" stroke-width="1.3" />
<line x1="906.5" y1="219.6" x2="976.7" y2="219.6" stroke="#151515" stroke-width="1.0" />
<line x1="906.5" y1="217.7" x2="906.5" y2="240" stroke="#151515" stroke-width="1.3" />
<line x1="976.7" y1="217.7" x2="976.7" y2="240" stroke="#151515" stroke-width="1.3" />
<line x1="976.7" y1="256" x2="976.7" y2="275.8" stroke="#151515" stroke-width="1.6" />
<line x1="906.8" y1="256" x2="906.8" y2="275" stroke="#151515" stroke-width="1.2" />
<rect x="925.9" y="217" width="8.2" height="10.7" fill="#fff" stroke="#151515" stroke-width="1.3" />
<line x1="928.2" y1="218" x2="928.2" y2="226" stroke="#151515" stroke-width="1.6" />
<circle cx="931.4" cy="220.4" r="0.6" fill="#151515"/>
<circle cx="931.4" cy="223.2" r="0.6" fill="#151515"/>
<circle cx="931.4" cy="226" r="0.6" fill="#151515"/>
<path d="M927.2,228.4 L942.2,228.4 L942.2,233 L954.8,233 L954.8,229.2 L960.4,229.2 L960.4,217.7" fill="none" stroke="#151515" stroke-width="1.4" stroke-linejoin="round" stroke-linecap="round" />
<rect x="961" y="218.9" width="6.9" height="2.9" fill="#151515" stroke="#151515" stroke-width="0" />
<rect x="961" y="223.4" width="5" height="3.1" fill="#fff" stroke="#151515" stroke-width="1.0" />
<rect x="890.2" y="233.2" width="102.2" height="2.2" rx="0.8" fill="#aaa" stroke="#151515" stroke-width="1.0" />
<rect x="922.1" y="230.9" width="5.1" height="6.2" fill="#fff" stroke="#151515" stroke-width="1.3" />
<line x1="923.4" y1="231.5" x2="923.4" y2="236.6" stroke="#151515" stroke-width="1.2" />
<rect x="955.4" y="230.9" width="4.4" height="6.2" fill="#fff" stroke="#151515" stroke-width="1.3" />
<line x1="956.7" y1="231.5" x2="956.7" y2="236.6" stroke="#151515" stroke-width="1.2" />
<rect x="909" y="241.5" width="64.6" height="10.1" fill="#fff" stroke="#151515" stroke-width="1.6" />
<rect x="902.1" y="226.5" width="3" height="47.5" fill="#fff" stroke="#151515" stroke-width="1.1" />
<rect x="902.4" y="227.5" width="2.4" height="3.5" fill="#444" stroke="#151515" stroke-width="0" />
<ellipse cx="903.6" cy="240" rx="3.9" ry="1.7" fill="#151515" stroke="#151515" stroke-width="0" />
<ellipse cx="903.6" cy="243.6" rx="3.9" ry="1.7" fill="#151515" stroke="#151515" stroke-width="0" />
<ellipse cx="903.6" cy="247.2" rx="3.9" ry="1.7" fill="#151515" stroke="#151515" stroke-width="0" />
<ellipse cx="903.6" cy="250.8" rx="3.9" ry="1.7" fill="#151515" stroke="#151515" stroke-width="0" />
<ellipse cx="903.6" cy="254.4" rx="3.9" ry="1.7" fill="#151515" stroke="#151515" stroke-width="0" />
<rect x="903" y="238" width="1.2" height="18" fill="#ddd" stroke="#151515" stroke-width="0" />
<rect x="978" y="226.5" width="3" height="47.5" fill="#fff" stroke="#151515" stroke-width="1.1" />
<rect x="978.3" y="227.5" width="2.4" height="3.5" fill="#444" stroke="#151515" stroke-width="0" />
<ellipse cx="979.5" cy="240" rx="3.9" ry="1.7" fill="#151515" stroke="#151515" stroke-width="0" />
<ellipse cx="979.5" cy="243.6" rx="3.9" ry="1.7" fill="#151515" stroke="#151515" stroke-width="0" />
<ellipse cx="979.5" cy="247.2" rx="3.9" ry="1.7" fill="#151515" stroke="#151515" stroke-width="0" />
<ellipse cx="979.5" cy="250.8" rx="3.9" ry="1.7" fill="#151515" stroke="#151515" stroke-width="0" />
<ellipse cx="979.5" cy="254.4" rx="3.9" ry="1.7" fill="#151515" stroke="#151515" stroke-width="0" />
<rect x="978.9" y="238" width="1.2" height="18" fill="#ddd" stroke="#151515" stroke-width="0" />
<circle cx="901.4" cy="249.2" r="1.8" fill="none" stroke="#151515" stroke-width="1.1"/>
<circle cx="983" cy="249.2" r="1.8" fill="none" stroke="#151515" stroke-width="1.1"/>
<line x1="909" y1="253.6" x2="973.6" y2="253.6" stroke="#151515" stroke-width="1.0" />
<line x1="940.6" y1="253.6" x2="940.6" y2="257.6" stroke="#151515" stroke-width="1.0" />
<line x1="965" y1="253.6" x2="965" y2="257.6" stroke="#151515" stroke-width="1.0" />
<rect x="907.5" y="257.6" width="68.3" height="2.3" fill="#777" stroke="#151515" stroke-width="0.9" />
<rect x="907.5" y="263.3" width="68.3" height="2.9" fill="#777" stroke="#151515" stroke-width="0.9" />
<line x1="907.5" y1="269.6" x2="975.8" y2="269.6" stroke="#151515" stroke-width="1.0" />
<line x1="885.1" y1="274.4" x2="977.6" y2="274.4" stroke="#151515" stroke-width="1.6" />
<rect x="927" y="261.6" width="5.6" height="9" fill="#fff" stroke="#151515" stroke-width="1.0" />
<rect x="929" y="264" width="1.6" height="2.4" fill="none" stroke="#151515" stroke-width="0.7" />
<line x1="968.6" y1="260" x2="968.6" y2="271.8" stroke="#151515" stroke-width="1.0" />
<line x1="964.8" y1="260" x2="964.8" y2="271.8" stroke="#151515" stroke-width="1.0" />
<rect x="885.1" y="260" width="16.5" height="14.4" fill="#fff" stroke="#151515" stroke-width="1.3" />
<rect x="888" y="260.8" width="10.8" height="9.4" fill="none" stroke="#151515" stroke-width="1.0" />
<circle cx="890.6" cy="268.8" r="0.7" fill="#151515"/>
<circle cx="896" cy="268.8" r="0.7" fill="#151515"/>
<rect x="981.3" y="238.6" width="19.6" height="20.3" fill="#fff" stroke="#151515" stroke-width="1.4" />
<circle cx="991.2" cy="248.7" r="9.4" fill="#fff" stroke="#151515" stroke-width="1.4"/>
<rect x="985.5" y="258.9" width="8.6" height="6.9" fill="#fff" stroke="#151515" stroke-width="1.3" />
<circle cx="989.8" cy="262.2" r="1.4" fill="none" stroke="#151515" stroke-width="1.0"/>
<line x1="876.5" y1="275.8" x2="969.7" y2="275.8" stroke="#151515" stroke-width="1.3" />
<line x1="876.5" y1="275.8" x2="876.5" y2="370.2" stroke="#151515" stroke-width="1.3" />
<line x1="887.3" y1="275.8" x2="887.3" y2="370.2" stroke="#151515" stroke-width="1.3" />
<line x1="878.7" y1="288" x2="878.7" y2="358" stroke="#151515" stroke-width="0.9" />
<line x1="885.6" y1="288" x2="885.6" y2="358" stroke="#151515" stroke-width="0.9" />
<rect x="878" y="278.2" width="7.8" height="10.8" fill="#fff" stroke="#151515" stroke-width="1.0" />
<rect x="878.8" y="279.6" width="2.4" height="2.8" fill="#151515" stroke="#151515" stroke-width="0" />
<rect x="882.8" y="279.6" width="2.4" height="2.8" fill="#151515" stroke="#151515" stroke-width="0" />
<rect x="878.8" y="284.4" width="2.4" height="3.2" fill="#151515" stroke="#151515" stroke-width="0" />
<rect x="882.8" y="284.4" width="2.4" height="3.2" fill="#151515" stroke="#151515" stroke-width="0" />
<rect x="878" y="355" width="7.8" height="10.8" fill="#fff" stroke="#151515" stroke-width="1.0" />
<rect x="878.8" y="356.4" width="2.4" height="2.8" fill="#151515" stroke="#151515" stroke-width="0" />
<rect x="882.8" y="356.4" width="2.4" height="2.8" fill="#151515" stroke="#151515" stroke-width="0" />
<rect x="878.8" y="361.2" width="2.4" height="3.2" fill="#151515" stroke="#151515" stroke-width="0" />
<rect x="882.8" y="361.2" width="2.4" height="3.2" fill="#151515" stroke="#151515" stroke-width="0" />
<line x1="898.4" y1="286.6" x2="898.4" y2="370.2" stroke="#151515" stroke-width="1.3" />
<line x1="898.4" y1="286.6" x2="935.3" y2="286.6" stroke="#151515" stroke-width="1.3" />
<line x1="899.6" y1="300.9" x2="933.9" y2="288" stroke="#151515" stroke-width="1.1" />
<line x1="968.3" y1="275.8" x2="968.3" y2="370.2" stroke="#151515" stroke-width="1.2" />
<line x1="969.9" y1="275.8" x2="969.9" y2="370.2" stroke="#151515" stroke-width="1.0" />
<line x1="899.5" y1="352.3" x2="916.7" y2="370.2" stroke="#151515" stroke-width="1.1" />
<circle cx="910.5" cy="359.4" r="1.9" fill="none" stroke="#151515" stroke-width="1.0"/>
<circle cx="899.6" cy="345" r="0.9" fill="#151515"/>
<circle cx="899.6" cy="351.6" r="0.9" fill="#151515"/>
<line x1="884.4" y1="333" x2="884.4" y2="346" stroke="#444" stroke-width="1.6" />
<rect x="935.3" y="276.6" width="4.3" height="91.4" fill="#777" stroke="#151515" stroke-width="1.0" />
<line x1="933.6" y1="310" x2="933.6" y2="362" stroke="#555" stroke-width="1.6" />
<rect x="939.6" y="276.6" width="3.6" height="4.3" fill="#fff" stroke="#151515" stroke-width="1.2" />
<rect x="923.8" y="289.5" width="9.4" height="17.9" fill="#fff" stroke="#151515" stroke-width="1.1" />
<line x1="923.8" y1="292.5" x2="933.2" y2="292.5" stroke="#151515" stroke-width="1.0" />
<line x1="923.8" y1="295.5" x2="933.2" y2="295.5" stroke="#151515" stroke-width="1.0" />
<line x1="923.8" y1="298.5" x2="933.2" y2="298.5" stroke="#151515" stroke-width="1.0" />
<line x1="923.8" y1="301.5" x2="933.2" y2="301.5" stroke="#151515" stroke-width="1.0" />
<line x1="923.8" y1="304.5" x2="933.2" y2="304.5" stroke="#151515" stroke-width="1.0" />
<rect x="918.8" y="309.5" width="13.6" height="26.1" fill="#fff" stroke="#151515" stroke-width="1.3" />
<rect x="921.7" y="335.6" width="8.6" height="11.6" fill="#fff" stroke="#151515" stroke-width="1.2" />
<line x1="918.8" y1="331" x2="932.4" y2="331" stroke="#151515" stroke-width="1.0" />
<line x1="898.4" y1="311" x2="918.8" y2="311" stroke="#151515" stroke-width="1.1" />
<line x1="898.4" y1="313.8" x2="918.8" y2="313.8" stroke="#151515" stroke-width="1.1" />
<rect x="898.4" y="317.2" width="20.4" height="2.6" fill="#151515" stroke="#151515" stroke-width="0" />
<line x1="898.4" y1="322.6" x2="918.8" y2="322.6" stroke="#151515" stroke-width="1.1" />
<line x1="898.4" y1="327.5" x2="918.8" y2="327.5" stroke="#151515" stroke-width="1.0" />
<rect x="854.3" y="311" width="2.9" height="15" rx="0.8" fill="#151515" stroke="#151515" stroke-width="0" />
<rect x="853.2" y="316.6" width="1.4" height="2.8" fill="#151515" stroke="#151515" stroke-width="0" />
<rect x="860" y="308.8" width="5.1" height="20.8" fill="#fff" stroke="#151515" stroke-width="1.2" />
<rect x="860.6" y="309.6" width="3.8" height="4" fill="#555" stroke="#151515" stroke-width="0" />
<line x1="860" y1="321.5" x2="865.1" y2="321.5" stroke="#151515" stroke-width="1.0" />
<rect x="857.2" y="314" width="2.8" height="8" fill="#fff" stroke="#151515" stroke-width="0.9" />
<line x1="865.1" y1="311" x2="876.5" y2="311" stroke="#151515" stroke-width="1.1" />
<line x1="865.1" y1="313.8" x2="876.5" y2="313.8" stroke="#151515" stroke-width="1.1" />
<rect x="865.8" y="317.2" width="21.5" height="2.6" fill="#151515" stroke="#151515" stroke-width="0" />
<line x1="865.1" y1="322.6" x2="876.5" y2="322.6" stroke="#151515" stroke-width="1.1" />
<line x1="865.1" y1="327.5" x2="876.5" y2="327.5" stroke="#151515" stroke-width="1.1" />
<line x1="887.3" y1="311" x2="887.3" y2="327.5" stroke="#151515" stroke-width="1.0" />
<line x1="961.8" y1="280" x2="961.8" y2="358.7" stroke="#151515" stroke-width="1.8" />
<line x1="964.2" y1="288" x2="964.2" y2="300" stroke="#151515" stroke-width="0.9" />
<rect x="939.6" y="287.3" width="22.2" height="2.2" fill="#333" stroke="#151515" stroke-width="0" />
<rect x="939.6" y="290.2" width="27.8" height="4.3" fill="#fff" stroke="#151515" stroke-width="1.1" />
<rect x="939.6" y="295.2" width="22.2" height="1.6" fill="#333" stroke="#151515" stroke-width="0" />
<rect x="939.6" y="296.8" width="22.2" height="7.7" fill="#fff" stroke="#151515" stroke-width="1.1" />
<rect x="939.6" y="305.2" width="22.2" height="2.2" fill="#333" stroke="#151515" stroke-width="0" />
<rect x="944.6" y="308.8" width="17.2" height="12.9" fill="#fff" stroke="#151515" stroke-width="1.3" />
<rect x="941" y="310.6" width="3.6" height="9.4" fill="#fff" stroke="#151515" stroke-width="1.0" />
<path d="M961.8,308 L966.6,308 Q969.6,311 969.6,315.2 Q969.6,319.4 966.6,322.4 L961.8,322.4" fill="#fff" stroke="#151515" stroke-width="1.2" stroke-linejoin="round" stroke-linecap="round" />
<line x1="965.8" y1="309" x2="965.8" y2="321.6" stroke="#151515" stroke-width="0.9" />
<rect x="939.6" y="322.4" width="30.8" height="2.9" fill="#222" stroke="#151515" stroke-width="0" />
<rect x="939.6" y="327.2" width="16.4" height="11.4" fill="#fff" stroke="#151515" stroke-width="1.1" />
<line x1="939.6" y1="333" x2="956" y2="333" stroke="#151515" stroke-width="0.9" />
<rect x="956" y="326" width="5" height="32" fill="#fff" stroke="#151515" stroke-width="1.0" />
<rect x="939.6" y="343" width="28" height="5" fill="#fff" stroke="#151515" stroke-width="1.1" />
<rect x="961.8" y="342" width="4.8" height="7" fill="#fff" stroke="#151515" stroke-width="1.0" />
<rect x="939.6" y="350.8" width="30.8" height="5.8" rx="1.6" fill="#fff" stroke="#151515" stroke-width="1.2" />
<rect x="961.8" y="349.8" width="2.8" height="7.8" fill="#222" stroke="#151515" stroke-width="0" />
<line x1="961.8" y1="280" x2="961.8" y2="358.7" stroke="#151515" stroke-width="1.8" />
<rect x="937" y="362.3" width="32" height="3.6" fill="#666" stroke="#151515" stroke-width="0.9" />
<path d="M953.4,358.2 L957.8,358.2 L955.6,360.6 Z" fill="#151515" stroke="#151515" stroke-width="0" stroke-linejoin="round" />
<path d="M953.4,366 L957.8,366 L955.6,368 Z" fill="#151515" stroke="#151515" stroke-width="0" stroke-linejoin="round" />
<line x1="933.2" y1="368" x2="939.6" y2="368" stroke="#151515" stroke-width="1.2" />
<rect x="861.8" y="370.2" width="126.8" height="12" fill="#fff" stroke="#151515" stroke-width="1.5" />
<line x1="861" y1="382.3" x2="989.4" y2="382.3" stroke="#151515" stroke-width="2.6" />
<rect x="883.2" y="382.5" width="13.6" height="3.5" fill="#151515" stroke="#151515" stroke-width="0" />
<rect x="882.6" y="385" width="13.8" height="19" rx="5.8" fill="#fff" stroke="#151515" stroke-width="1.5" />
<rect x="887.6" y="389.4" width="5.6" height="13" rx="2.4" fill="#2a2a2a" stroke="#151515" stroke-width="0" />
<line x1="889.4" y1="392" x2="889.4" y2="400" stroke="#999" stroke-width="0.7" />
<path d="M895,386 L895,396 Q894.4,400 892,402.6" fill="none" stroke="#151515" stroke-width="1.3" stroke-linejoin="round" stroke-linecap="round" />
<rect x="886.2" y="386.6" width="3.8" height="1.4" fill="#fff" stroke="#151515" stroke-width="0" />
<rect x="933.6" y="382.5" width="13.2" height="3.5" fill="#151515" stroke="#151515" stroke-width="0" />
<rect x="933" y="385" width="13.4" height="19" rx="5.8" fill="#fff" stroke="#151515" stroke-width="1.5" />
<rect x="938" y="389.4" width="5.6" height="13" rx="2.4" fill="#2a2a2a" stroke="#151515" stroke-width="0" />
<line x1="939.8" y1="392" x2="939.8" y2="400" stroke="#999" stroke-width="0.7" />
<path d="M945,386 L945,396 Q944.4,400 942,402.6" fill="none" stroke="#151515" stroke-width="1.3" stroke-linejoin="round" stroke-linecap="round" />
<rect x="936.6" y="386.6" width="3.8" height="1.4" fill="#fff" stroke="#151515" stroke-width="0" />
<rect x="952.9" y="382.5" width="13.1" height="3.5" fill="#151515" stroke="#151515" stroke-width="0" />
<rect x="952.3" y="385" width="13.3" height="19" rx="5.8" fill="#fff" stroke="#151515" stroke-width="1.5" />
<rect x="957.3" y="389.4" width="5.6" height="13" rx="2.4" fill="#2a2a2a" stroke="#151515" stroke-width="0" />
<line x1="959.1" y1="392" x2="959.1" y2="400" stroke="#999" stroke-width="0.7" />
<path d="M964.2,386 L964.2,396 Q963.6,400 961.2,402.6" fill="none" stroke="#151515" stroke-width="1.3" stroke-linejoin="round" stroke-linecap="round" />
<rect x="955.9" y="386.6" width="3.8" height="1.4" fill="#fff" stroke="#151515" stroke-width="0" />
<rect x="865.5" y="383.6" width="4.2" height="13" fill="#fff" stroke="#151515" stroke-width="1.2" />
<rect x="864.1" y="396.2" width="7" height="5.7" rx="0.6" fill="#151515" stroke="#151515" stroke-width="0" />
<rect x="865.2" y="397.6" width="1.8" height="2" fill="#fff" stroke="#151515" stroke-width="0" />
<rect x="868.2" y="397.6" width="1.8" height="2" fill="#fff" stroke="#151515" stroke-width="0" />
<rect x="865.6" y="400.6" width="4" height="0.6" fill="#aaa" stroke="#151515" stroke-width="0" />
<path d="M858.2,407.2 L877,407.2 L871,401.9 L864.2,401.9 Z" fill="#fff" stroke="#151515" stroke-width="1.2" stroke-linejoin="round" />
<line x1="858.2" y1="406.8" x2="877" y2="406.8" stroke="#151515" stroke-width="1.9" />
<rect x="980.9" y="383.6" width="4.2" height="13" fill="#fff" stroke="#151515" stroke-width="1.2" />
<rect x="979.5" y="396.2" width="7" height="5.7" rx="0.6" fill="#151515" stroke="#151515" stroke-width="0" />
<rect x="980.6" y="397.6" width="1.8" height="2" fill="#fff" stroke="#151515" stroke-width="0" />
<rect x="983.6" y="397.6" width="1.8" height="2" fill="#fff" stroke="#151515" stroke-width="0" />
<rect x="981" y="400.6" width="4" height="0.6" fill="#aaa" stroke="#151515" stroke-width="0" />
<path d="M973.6,407.2 L992.4,407.2 L986.4,401.9 L979.6,401.9 Z" fill="#fff" stroke="#151515" stroke-width="1.2" stroke-linejoin="round" />
<line x1="973.6" y1="406.8" x2="992.4" y2="406.8" stroke="#151515" stroke-width="1.9" />
</g>
<g id="top">
<path d="M552.9,591.5 L497,591.5 L497,620.8" fill="none" stroke="#151515" stroke-width="1.6" stroke-linejoin="round" stroke-linecap="round" />
<line x1="499" y1="595.5" x2="552.9" y2="595.5" stroke="#151515" stroke-width="1.1" />
<line x1="499" y1="595.5" x2="499" y2="620.8" stroke="#151515" stroke-width="1.0" />
<circle cx="496.4" cy="599.5" r="0.9" fill="#151515"/>
<rect x="252.2" y="621.4" width="391.1" height="2.5" fill="#5a5a5a" stroke="#151515" stroke-width="1.0" />
<rect x="252.2" y="686.6" width="392.8" height="2.5" fill="#5a5a5a" stroke="#151515" stroke-width="1.0" />
<rect x="252.2" y="621.4" width="14.8" height="2.5" fill="#111" stroke="#151515" stroke-width="0" />
<rect x="252.2" y="686.6" width="14.8" height="2.5" fill="#111" stroke="#151515" stroke-width="0" />
<line x1="252.2" y1="621.4" x2="252.2" y2="689.1" stroke="#151515" stroke-width="1.3" />
<line x1="258.6" y1="623.9" x2="258.6" y2="686.6" stroke="#151515" stroke-width="1.2" />
<rect x="253.6" y="617.3" width="9.3" height="4.1" fill="#fff" stroke="#151515" stroke-width="1.1" />
<rect x="253.6" y="689.3" width="9.3" height="4.1" fill="#fff" stroke="#151515" stroke-width="1.1" />
<rect x="265.8" y="617.3" width="4.6" height="4.1" fill="#fff" stroke="#151515" stroke-width="1.1" />
<rect x="265.8" y="689.3" width="4.6" height="4.1" fill="#fff" stroke="#151515" stroke-width="1.1" />
<line x1="635.4" y1="623.9" x2="635.4" y2="686.6" stroke="#151515" stroke-width="1.3" />
<line x1="643.3" y1="623.9" x2="643.3" y2="686.6" stroke="#151515" stroke-width="1.3" />
<rect x="283" y="621.9" width="2.4" height="1.4" fill="#111" stroke="#151515" stroke-width="0" />
<rect x="283" y="687.2" width="2.4" height="1.4" fill="#111" stroke="#151515" stroke-width="0" />
<rect x="351" y="621.9" width="2.4" height="1.4" fill="#111" stroke="#151515" stroke-width="0" />
<rect x="351" y="687.2" width="2.4" height="1.4" fill="#111" stroke="#151515" stroke-width="0" />
<rect x="420" y="621.9" width="2.4" height="1.4" fill="#111" stroke="#151515" stroke-width="0" />
<rect x="420" y="687.2" width="2.4" height="1.4" fill="#111" stroke="#151515" stroke-width="0" />
<rect x="465" y="621.9" width="2.4" height="1.4" fill="#111" stroke="#151515" stroke-width="0" />
<rect x="465" y="687.2" width="2.4" height="1.4" fill="#111" stroke="#151515" stroke-width="0" />
<rect x="520" y="621.9" width="2.4" height="1.4" fill="#111" stroke="#151515" stroke-width="0" />
<rect x="520" y="687.2" width="2.4" height="1.4" fill="#111" stroke="#151515" stroke-width="0" />
<rect x="574" y="621.9" width="2.4" height="1.4" fill="#111" stroke="#151515" stroke-width="0" />
<rect x="574" y="687.2" width="2.4" height="1.4" fill="#111" stroke="#151515" stroke-width="0" />
<rect x="258.6" y="638.9" width="206.8" height="2.9" fill="#5a5a5a" stroke="#151515" stroke-width="0.9" />
<rect x="467.6" y="638.9" width="96.8" height="2.9" fill="#5a5a5a" stroke="#151515" stroke-width="0.9" />
<rect x="258.6" y="668.5" width="206.8" height="3" fill="#5a5a5a" stroke="#151515" stroke-width="0.9" />
<rect x="467.6" y="668.5" width="96.8" height="3" fill="#5a5a5a" stroke="#151515" stroke-width="0.9" />
<path d="M250.6,637 L258.6,640.4" fill="none" stroke="#151515" stroke-width="1.8" stroke-linejoin="round" stroke-linecap="round" />
<path d="M250.6,673.6 L258.6,670" fill="none" stroke="#151515" stroke-width="1.8" stroke-linejoin="round" stroke-linecap="round" />
<rect x="298.2" y="604.4" width="2.8" height="34.5" rx="0.8" fill="#fff" stroke="#151515" stroke-width="1.0" /><rect x="296" y="614.2" width="12" height="6" rx="2" fill="#222" stroke="#151515" stroke-width="0" /><rect x="298.7" y="613.6" width="1.8" height="7.2" fill="#fff" stroke="#151515" stroke-width="0" /><circle cx="304.6" cy="617.2" r="1" fill="#aaa" stroke="#151515" stroke-width="0"/>
<rect x="501.3" y="604.4" width="2.8" height="34.5" rx="0.8" fill="#fff" stroke="#151515" stroke-width="1.0" /><rect x="496.3" y="614.8" width="10.2" height="6" rx="2" fill="#222" stroke="#151515" stroke-width="0" /><rect x="501.8" y="614.2" width="1.8" height="7.2" fill="#fff" stroke="#151515" stroke-width="0" /><circle cx="498.7" cy="617.8" r="1" fill="#aaa" stroke="#151515" stroke-width="0"/>
<rect x="298.2" y="671.5" width="2.8" height="35.1" rx="0.8" fill="#fff" stroke="#151515" stroke-width="1.0" /><rect x="296" y="690.6" width="12" height="6" rx="2" fill="#222" stroke="#151515" stroke-width="0" /><rect x="298.7" y="690" width="1.8" height="7.2" fill="#fff" stroke="#151515" stroke-width="0" /><circle cx="304.6" cy="693.6" r="1" fill="#aaa" stroke="#151515" stroke-width="0"/>
<rect x="399.5" y="652.2" width="2.8" height="54.4" rx="0.8" fill="#fff" stroke="#151515" stroke-width="1.0" /><rect x="397.3" y="690.6" width="12" height="6" rx="2" fill="#222" stroke="#151515" stroke-width="0" /><rect x="400" y="690" width="1.8" height="7.2" fill="#fff" stroke="#151515" stroke-width="0" /><circle cx="405.9" cy="693.6" r="1" fill="#aaa" stroke="#151515" stroke-width="0"/>
<rect x="501" y="671.5" width="2.8" height="35.1" rx="0.8" fill="#fff" stroke="#151515" stroke-width="1.0" /><rect x="496" y="690.6" width="10.2" height="6" rx="2" fill="#222" stroke="#151515" stroke-width="0" /><rect x="501.5" y="690" width="1.8" height="7.2" fill="#fff" stroke="#151515" stroke-width="0" /><circle cx="498.4" cy="693.6" r="1" fill="#aaa" stroke="#151515" stroke-width="0"/>
<rect x="559.3" y="671.5" width="2.8" height="34.8" rx="0.8" fill="#fff" stroke="#151515" stroke-width="1.0" /><rect x="554.3" y="690.6" width="10.2" height="6" rx="2" fill="#222" stroke="#151515" stroke-width="0" /><rect x="559.8" y="690" width="1.8" height="7.2" fill="#fff" stroke="#151515" stroke-width="0" /><circle cx="556.7" cy="693.6" r="1" fill="#aaa" stroke="#151515" stroke-width="0"/>
<rect x="559.4" y="623.9" width="2.9" height="15" fill="#fff" stroke="#151515" stroke-width="1.0" />
<path d="M369.4,574.8 A8.6,8.6 0 0 0 369.4,588.4" fill="none" stroke="#151515" stroke-width="1.0" stroke-linejoin="round" stroke-linecap="round" />
<rect x="369.4" y="574.3" width="8.6" height="23" fill="none" stroke="#151515" stroke-width="1.2" />
<rect x="385.6" y="570" width="15.7" height="3.6" rx="1.2" fill="#151515" stroke="#151515" stroke-width="0" />
<rect x="414.5" y="569.3" width="16.1" height="4.1" rx="1.2" fill="#151515" stroke="#151515" stroke-width="0" />
<rect x="388" y="573.4" width="11" height="1.6" fill="#333" stroke="#151515" stroke-width="0" />
<rect x="417" y="573.4" width="11" height="1.6" fill="#333" stroke="#151515" stroke-width="0" />
<rect x="378" y="575" width="59.5" height="5" fill="#fff" stroke="#151515" stroke-width="1.3" />
<line x1="408.4" y1="575" x2="408.4" y2="580" stroke="#151515" stroke-width="1.2" />
<circle cx="393.4" cy="577.4" r="0.6" fill="#151515"/>
<circle cx="418.6" cy="577.5" r="1.6" fill="none" stroke="#151515" stroke-width="1.0"/>
<line x1="434.4" y1="575" x2="434.4" y2="580" stroke="#151515" stroke-width="1.0" />
<rect x="378.7" y="580" width="5.7" height="17.3" fill="#fff" stroke="#151515" stroke-width="1.1" />
<rect x="391.6" y="580" width="4.3" height="17.3" fill="#fff" stroke="#151515" stroke-width="1.1" />
<rect x="401.6" y="580" width="5.7" height="17.3" fill="#fff" stroke="#151515" stroke-width="1.1" />
<rect x="409.5" y="580" width="5" height="17.3" fill="#fff" stroke="#151515" stroke-width="1.1" />
<rect x="416.7" y="580" width="6.4" height="17.3" fill="#fff" stroke="#151515" stroke-width="1.1" />
<rect x="427.4" y="580" width="8.6" height="17.3" fill="#fff" stroke="#151515" stroke-width="1.1" />
<rect x="381.5" y="583" width="2.9" height="14.3" fill="#151515" stroke="#151515" stroke-width="0" />
<rect x="411.6" y="588" width="3.6" height="9.3" fill="#151515" stroke="#151515" stroke-width="0" />
<rect x="433.4" y="586" width="2" height="11.3" fill="#333" stroke="#151515" stroke-width="0" />
<rect x="393" y="583" width="1.6" height="14.3" fill="#999" stroke="#151515" stroke-width="0" />
<rect x="419" y="583" width="1.8" height="14.3" fill="#999" stroke="#151515" stroke-width="0" />
<rect x="369.4" y="597.3" width="8.6" height="2.8" fill="#333" stroke="#151515" stroke-width="0" />
<rect x="369.4" y="600.1" width="37.9" height="13.7" fill="#fff" stroke="#151515" stroke-width="1.3" />
<line x1="369.4" y1="598.4" x2="407.3" y2="598.4" stroke="#151515" stroke-width="1.0" />
<rect x="369.8" y="600.6" width="2.4" height="12.6" fill="#222" stroke="#151515" stroke-width="0" />
<rect x="372.9" y="603.7" width="5.8" height="6.5" fill="#fff" stroke="#151515" stroke-width="1.1" />
<circle cx="375.8" cy="607" r="1.2" fill="#151515"/>
<rect x="395.2" y="603.7" width="5.8" height="6.5" fill="#fff" stroke="#151515" stroke-width="1.1" />
<circle cx="398.1" cy="607" r="1.2" fill="#151515"/>
<circle cx="387" cy="607" r="6.6" fill="#fff" stroke="#151515" stroke-width="2.0"/>
<circle cx="387" cy="607" r="3.7" fill="#222" stroke="#151515" stroke-width="0"/>
<path d="M388.6,606 A1.8,1.8 0 1 0 388.6,608" fill="none" stroke="#bbb" stroke-width="0.6" stroke-linejoin="round" stroke-linecap="round" />
<rect x="409.5" y="597.6" width="49.7" height="19" fill="#fff" stroke="#151515" stroke-width="1.3" />
<line x1="420.2" y1="597.6" x2="420.2" y2="599.4" stroke="#151515" stroke-width="1.4" />
<line x1="435.8" y1="597.6" x2="435.8" y2="599.4" stroke="#151515" stroke-width="1.4" />
<line x1="447.6" y1="597.6" x2="447.6" y2="599.4" stroke="#151515" stroke-width="1.4" />
<line x1="420.2" y1="614.4" x2="420.2" y2="616.6" stroke="#151515" stroke-width="1.4" />
<line x1="435.8" y1="614.4" x2="435.8" y2="616.6" stroke="#151515" stroke-width="1.4" />
<rect x="459.2" y="601.6" width="38.5" height="17.2" fill="#fff" stroke="#151515" stroke-width="1.2" />
<line x1="469" y1="612.3" x2="497" y2="612.3" stroke="#151515" stroke-width="1.2" />
<rect x="439.6" y="609.5" width="29.1" height="9.3" fill="#fff" stroke="#151515" stroke-width="1.3" />
<line x1="441.6" y1="610.5" x2="441.6" y2="618.8" stroke="#151515" stroke-width="0.9" />
<line x1="466.8" y1="610.5" x2="466.8" y2="618.8" stroke="#151515" stroke-width="0.9" />
<rect x="358" y="617.6" width="16" height="3.8" fill="#fff" stroke="#151515" stroke-width="0.9" />
<rect x="384.6" y="617.6" width="23.4" height="3.8" fill="#fff" stroke="#151515" stroke-width="0.9" />
<rect x="411" y="617.2" width="25" height="4.2" fill="#fff" stroke="#151515" stroke-width="0.9" />
<rect x="444.3" y="618.8" width="7" height="2.4" fill="#fff" stroke="#151515" stroke-width="0.9" />
<rect x="457.2" y="618.8" width="6.5" height="2.4" fill="#fff" stroke="#151515" stroke-width="0.9" />
<rect x="465.8" y="618.8" width="13.4" height="2.4" fill="#fff" stroke="#151515" stroke-width="0.9" />
<rect x="484.6" y="619" width="11.4" height="2.2" fill="#888" stroke="#151515" stroke-width="0.9" />
<rect x="505.6" y="618.8" width="22.6" height="2.4" fill="#fff" stroke="#151515" stroke-width="0.9" />
<circle cx="411.4" cy="618.6" r="0.9" fill="#151515"/>
<circle cx="398.6" cy="619" r="0.9" fill="#151515"/>
<rect x="378.7" y="613.8" width="5.7" height="24.8" fill="#fff" stroke="#151515" stroke-width="1.1" />
<rect x="401.6" y="613.8" width="5.7" height="24.8" fill="#fff" stroke="#151515" stroke-width="1.1" />
<rect x="448.9" y="623.9" width="2.9" height="62.7" fill="#fff" stroke="#151515" stroke-width="1.1" />
<rect x="456.1" y="623.9" width="4.3" height="62.7" fill="#fff" stroke="#151515" stroke-width="1.1" />
<rect x="391.6" y="613.8" width="4.3" height="10.8" rx="1" fill="#fff" stroke="#151515" stroke-width="1.0" />
<rect x="446" y="621.4" width="17" height="2.5" fill="#444" stroke="#151515" stroke-width="0" />
<rect x="444" y="638.9" width="21.4" height="2.9" fill="#5a5a5a" stroke="#151515" stroke-width="0.9" />
<rect x="444" y="668.5" width="21.4" height="3" fill="#5a5a5a" stroke="#151515" stroke-width="0.9" />
<rect x="358.6" y="633.8" width="16.5" height="12.9" fill="#fff" stroke="#151515" stroke-width="1.2" />
<line x1="362.6" y1="633.8" x2="362.6" y2="646.7" stroke="#151515" stroke-width="1.0" />
<line x1="367.6" y1="633.8" x2="367.6" y2="646.7" stroke="#151515" stroke-width="1.0" />
<rect x="370.6" y="634.4" width="3.8" height="3.6" fill="#555" stroke="#151515" stroke-width="0" />
<rect x="369.9" y="638.4" width="50.7" height="9.8" fill="#fff" stroke="#151515" stroke-width="1.8" />
<line x1="385.6" y1="638.6" x2="385.6" y2="648.2" stroke="#151515" stroke-width="1.6" />
<rect x="421.6" y="642.8" width="22.1" height="5.4" fill="#2a2a2a" stroke="#151515" stroke-width="0" />
<rect x="423" y="643.6" width="7" height="1" fill="#ddd" stroke="#151515" stroke-width="0" />
<rect x="437.4" y="643.6" width="5.2" height="1.2" fill="#ddd" stroke="#151515" stroke-width="0" />
<rect x="437.4" y="646" width="5.2" height="1" fill="#bbb" stroke="#151515" stroke-width="0" />
<rect x="430.6" y="645.4" width="3.8" height="2" fill="#ccc" stroke="#151515" stroke-width="0" />
<rect x="305.2" y="647.2" width="63.8" height="2.9" fill="#fff" stroke="#151515" stroke-width="1.0" />
<circle cx="311.4" cy="645.6" r="0.9" fill="none" stroke="#151515" stroke-width="0.8"/>
<circle cx="336" cy="647" r="0.8" fill="#151515"/>
<rect x="288.7" y="651.2" width="58.8" height="3.9" fill="#444" stroke="#151515" stroke-width="1.0" />
<rect x="289.5" y="655.1" width="5" height="3.6" fill="#fff" stroke="#151515" stroke-width="1.0" />
<rect x="289.5" y="675.9" width="53.7" height="2.1" fill="#777" stroke="#151515" stroke-width="0.9" />
<rect x="318.5" y="656.1" width="15.3" height="5.8" fill="#fff" stroke="#151515" stroke-width="1.3" />
<rect x="320.3" y="661.9" width="11.7" height="16.1" fill="#fff" stroke="#151515" stroke-width="1.2" />
<line x1="323.9" y1="661.9" x2="323.9" y2="678" stroke="#151515" stroke-width="1.0" />
<line x1="330.6" y1="661.9" x2="330.6" y2="678" stroke="#151515" stroke-width="1.0" />
<path d="M318.1,678 L333.8,678 L333.8,680.4 Q332,685.2 328,685.2 L323.4,685.2 Q319.4,685.2 318.1,680.4 Z" fill="#2a2a2a" stroke="#151515" stroke-width="0" stroke-linejoin="round" stroke-linecap="round" />
<rect x="320.6" y="680.2" width="11" height="2.2" fill="#999" stroke="#151515" stroke-width="0" />
<rect x="338.2" y="655.1" width="4.3" height="30.1" fill="#fff" stroke="#151515" stroke-width="1.1" />
<rect x="343.5" y="651.5" width="3.3" height="32.3" fill="#666" stroke="#151515" stroke-width="1.0" />
<rect x="362.6" y="653" width="5.7" height="32.2" rx="1.4" fill="#fff" stroke="#151515" stroke-width="1.1" />
<rect x="371.2" y="650" width="3.6" height="33.8" fill="#666" stroke="#151515" stroke-width="1.0" />
<rect x="347.5" y="651.6" width="15.1" height="1.8" fill="#999" stroke="#151515" stroke-width="0.8" />
<rect x="258.6" y="668.5" width="60.3" height="3" fill="#5a5a5a" stroke="#151515" stroke-width="0.9" />
<rect x="346.8" y="668.5" width="15.8" height="3" fill="#5a5a5a" stroke="#151515" stroke-width="0.9" />
<path d="M366.5,692.4 A9.3,9.3 0 1 0 383.7,692.4" fill="none" stroke="#151515" stroke-width="1.1" stroke-linejoin="round" stroke-linecap="round" />
<line x1="368.4" y1="702.4" x2="381.8" y2="702.4" stroke="#151515" stroke-width="0.9" />
<rect x="357.6" y="689.5" width="27.9" height="2.9" fill="#fff" stroke="#151515" stroke-width="1.0" />
<rect x="428.1" y="689.5" width="52.4" height="2.9" fill="#fff" stroke="#151515" stroke-width="1.0" />
<line x1="444" y1="689.5" x2="444" y2="692.4" stroke="#151515" stroke-width="0.8" />
<line x1="464" y1="689.5" x2="464" y2="692.4" stroke="#151515" stroke-width="0.8" />
<rect x="484" y="690" width="13" height="2.4" fill="#bbb" stroke="#151515" stroke-width="0.9" />
<rect x="369.9" y="648.7" width="67.9" height="2.5" fill="#eee" stroke="#151515" stroke-width="0.9" />
<rect x="371.3" y="651.2" width="3.5" height="31" fill="#555" stroke="#151515" stroke-width="0.9" />
<rect x="373.8" y="679.2" width="4.4" height="5" rx="1" fill="#fff" stroke="#151515" stroke-width="1.0" />
<rect x="376.7" y="657.1" width="10.9" height="6.4" fill="#ddd" stroke="#151515" stroke-width="1.4" />
<circle cx="381.9" cy="660.3" r="1.5" fill="#fff" stroke="#151515" stroke-width="1.2"/>
<rect x="377.2" y="663.5" width="3.5" height="17.1" fill="#222" stroke="#151515" stroke-width="0" />
<rect x="381.2" y="664" width="3.4" height="14.2" fill="#fff" stroke="#151515" stroke-width="1.0" />
<rect x="380.8" y="678.4" width="4.2" height="2.2" fill="#777" stroke="#151515" stroke-width="0" />
<rect x="386.6" y="652.2" width="10.4" height="19.2" fill="#fff" stroke="#151515" stroke-width="1.1" />
<line x1="390.6" y1="652.2" x2="390.6" y2="671.4" stroke="#151515" stroke-width="0.9" />
<rect x="386.2" y="672.4" width="10.6" height="6" fill="#fff" stroke="#151515" stroke-width="1.0" />
<line x1="389.8" y1="672.4" x2="389.8" y2="678.4" stroke="#151515" stroke-width="0.9" />
<line x1="393.2" y1="672.4" x2="393.2" y2="678.4" stroke="#151515" stroke-width="0.9" />
<rect x="396.9" y="651.2" width="2.5" height="29.2" fill="#222" stroke="#151515" stroke-width="0" />
<rect x="404.8" y="652.2" width="5" height="11.4" fill="#fff" stroke="#151515" stroke-width="1.2" />
<rect x="403.4" y="663.5" width="7.4" height="9.1" rx="2.2" fill="#222" stroke="#151515" stroke-width="0" />
<circle cx="407.6" cy="667.6" r="1.7" fill="none" stroke="#ddd" stroke-width="0.7"/>
<circle cx="403" cy="667.6" r="1.2" fill="#151515"/>
<rect x="404.4" y="672.6" width="5.6" height="6" fill="#222" stroke="#151515" stroke-width="0" />
<rect x="405.4" y="674.4" width="3.6" height="1.6" fill="#ccc" stroke="#151515" stroke-width="0" />
<rect x="403.8" y="650.8" width="6.8" height="2" fill="#444" stroke="#151515" stroke-width="0" />
<rect x="415.2" y="652.4" width="7.4" height="3.2" rx="0.8" fill="#222" stroke="#151515" stroke-width="0" />
<rect x="416.6" y="655.6" width="4.6" height="21.8" fill="#fff" stroke="#151515" stroke-width="1.2" />
<rect x="414.8" y="677.2" width="8.2" height="3.2" rx="0.8" fill="#222" stroke="#151515" stroke-width="0" />
<rect x="416.4" y="680.4" width="5" height="3.4" rx="1.2" fill="#fff" stroke="#151515" stroke-width="1.2" />
<rect x="426.5" y="652.4" width="6.9" height="3.2" rx="0.8" fill="#222" stroke="#151515" stroke-width="0" />
<rect x="427.9" y="655.6" width="4.1" height="21.8" fill="#fff" stroke="#151515" stroke-width="1.2" />
<rect x="426.1" y="677.2" width="7.7" height="3.2" rx="0.8" fill="#222" stroke="#151515" stroke-width="0" />
<rect x="427.7" y="680.4" width="4.5" height="3.4" rx="1.2" fill="#fff" stroke="#151515" stroke-width="1.2" />
<rect x="437.4" y="648.8" width="6.4" height="15.8" fill="#fff" stroke="#151515" stroke-width="1.0" />
<rect x="444.8" y="643" width="3.8" height="13.6" fill="#fff" stroke="#151515" stroke-width="1.0" />
<rect x="433.4" y="665" width="13.3" height="4.9" fill="#fff" stroke="#151515" stroke-width="1.3" />
<circle cx="442.3" cy="667.5" r="1.6" fill="none" stroke="#151515" stroke-width="1.3"/>
<rect x="434" y="666.2" width="2.2" height="2.6" fill="none" stroke="#151515" stroke-width="0.9" />
<rect x="433.8" y="670.6" width="12.9" height="10.6" fill="#fff" stroke="#151515" stroke-width="1.0" />
<line x1="437.6" y1="670.6" x2="437.6" y2="681.2" stroke="#151515" stroke-width="0.9" />
<line x1="440.6" y1="670.6" x2="440.6" y2="681.2" stroke="#151515" stroke-width="0.9" />
<line x1="433.8" y1="673.8" x2="446.7" y2="673.8" stroke="#151515" stroke-width="0.9" />
<line x1="433.4" y1="681.6" x2="447" y2="681.6" stroke="#151515" stroke-width="1.6" />
<rect x="447.7" y="655.6" width="4.4" height="25.8" fill="#fff" stroke="#151515" stroke-width="1.1" />
<rect x="452.1" y="642.8" width="4.9" height="42.6" fill="#2a2a2a" stroke="#151515" stroke-width="0" />
<rect x="453" y="644.6" width="2.6" height="2" fill="#eee" stroke="#151515" stroke-width="0" />
<rect x="453" y="648.4" width="2.6" height="2" fill="#eee" stroke="#151515" stroke-width="0" />
<rect x="453" y="652.4" width="2.6" height="2" fill="#eee" stroke="#151515" stroke-width="0" />
<rect x="453" y="655.4" width="2.6" height="2" fill="#eee" stroke="#151515" stroke-width="0" />
<rect x="453" y="660.4" width="2.6" height="2" fill="#eee" stroke="#151515" stroke-width="0" />
<rect x="453" y="676.4" width="2.6" height="2" fill="#eee" stroke="#151515" stroke-width="0" />
<rect x="411.2" y="668.5" width="4" height="2.7" fill="#5a5a5a" stroke="#151515" stroke-width="0" />
<rect x="422.6" y="668.5" width="3.9" height="2.7" fill="#5a5a5a" stroke="#151515" stroke-width="0" />
<circle cx="590.2" cy="581.6" r="9.3" fill="none" stroke="#151515" stroke-width="1.1"/>
<line x1="584.5" y1="574.4" x2="584.5" y2="584.4" stroke="#151515" stroke-width="1.1" />
<line x1="596" y1="574.4" x2="596" y2="584.4" stroke="#151515" stroke-width="1.1" />
<rect x="560" y="582.4" width="15" height="2" fill="#151515" stroke="#151515" stroke-width="0" />
<rect x="590" y="582.4" width="14" height="2" fill="#151515" stroke="#151515" stroke-width="0" />
<rect x="554" y="585.4" width="56.6" height="37.3" fill="#fff" stroke="#151515" stroke-width="2.0" />
<rect x="563" y="624.5" width="8.6" height="2.9" rx="1" fill="#151515" stroke="#151515" stroke-width="0" />
<rect x="596.7" y="624.5" width="8.6" height="3.5" rx="1" fill="#151515" stroke="#151515" stroke-width="0" />
<rect x="579" y="624.6" width="9" height="2" fill="#fff" stroke="#151515" stroke-width="0.8" />
<rect x="625.3" y="598.3" width="18" height="23.3" fill="#fff" stroke="#151515" stroke-width="1.6" />
<rect x="625" y="621.2" width="18.3" height="2.7" fill="#222" stroke="#151515" stroke-width="0" />
<rect x="579.5" y="625.9" width="3.5" height="15.5" fill="#fff" stroke="#151515" stroke-width="1.0" />
<rect x="579.5" y="669.4" width="3.5" height="17.6" fill="#fff" stroke="#151515" stroke-width="1.0" />
<rect x="577.4" y="639.6" width="7.6" height="1.8" fill="#999" stroke="#151515" stroke-width="0.8" />
<rect x="577.4" y="669.4" width="7.6" height="1.8" fill="#999" stroke="#151515" stroke-width="0.8" />
<rect x="568.4" y="641.4" width="25.1" height="28" rx="1" fill="#fff" stroke="#151515" stroke-width="1.4" />
<rect x="624.6" y="689.5" width="20.8" height="22.2" fill="#fff" stroke="#151515" stroke-width="2.0" />
<line x1="630.4" y1="693.8" x2="630.4" y2="711.7" stroke="#151515" stroke-width="1.6" />
<line x1="639" y1="693.8" x2="639" y2="711.7" stroke="#151515" stroke-width="1.6" />
<line x1="624.6" y1="693.8" x2="645.4" y2="693.8" stroke="#151515" stroke-width="1.6" />
<rect x="626" y="687.6" width="18" height="1.8" fill="#222" stroke="#151515" stroke-width="0" />
<rect x="578.7" y="693.8" width="45.9" height="20.8" fill="#fff" stroke="#151515" stroke-width="2.0" />
<path d="M578.7,703.1 L590.9,703.1 L590.9,693.8 M578.7,706 L590.9,706 L590.9,714.6" fill="none" stroke="#151515" stroke-width="1.6" stroke-linejoin="round" stroke-linecap="round" />
<path d="M598,689.5 Q610,693 624,691.6" fill="none" stroke="#151515" stroke-width="1.0" stroke-linejoin="round" stroke-linecap="round" />
<rect x="566" y="690" width="10.6" height="2.2" fill="#fff" stroke="#151515" stroke-width="0.9" />
<rect x="584" y="690" width="9" height="2.8" fill="#666" stroke="#151515" stroke-width="0" />
<line x1="593" y1="690" x2="596.6" y2="693.6" stroke="#151515" stroke-width="1.0" />
</g>
</svg>
</body></html>
